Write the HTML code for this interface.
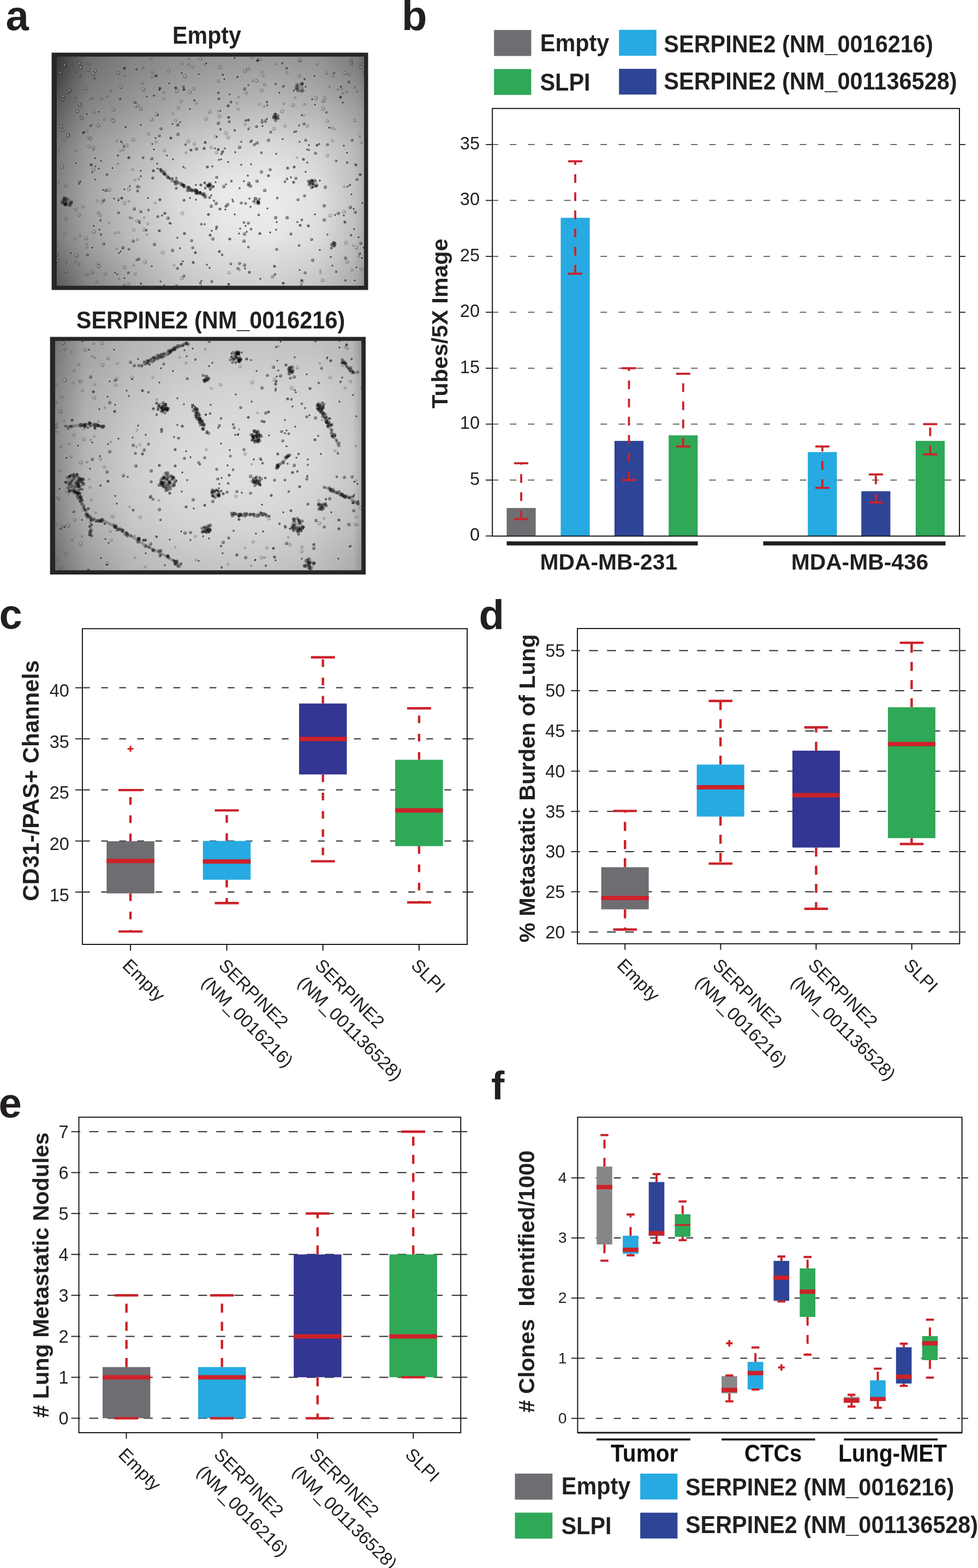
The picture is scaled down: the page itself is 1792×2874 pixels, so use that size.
<!DOCTYPE html><html><head><meta charset="utf-8"><title>Figure</title><style>html,body{margin:0;padding:0;background:#fff;overflow:hidden;width:1792px;height:2874px;}svg{display:block;}text{font-family:"Liberation Sans",Arial,Helvetica,sans-serif;}</style></head><body>
<svg width="1792" height="2874" viewBox="0 0 1792 2874">
<rect width="1792" height="2874" fill="#fff"/>
<defs><g id="k0"><circle r="3" fill="#fff" fill-opacity=".25"/><circle r="2" fill="#000" fill-opacity=".55"/></g><g id="k1"><circle r="3.4" fill="#fff" fill-opacity=".22"/><circle r="2.4" fill="#000" fill-opacity=".55"/><circle cx="-.6" cy="-.6" r=".8" fill="#fff" fill-opacity=".45"/></g><g id="k2"><circle r="3.8" fill="#fff" fill-opacity=".2"/><circle r="2.8" fill="#000" fill-opacity=".5"/><circle cx="-.8" cy="-.8" r="1" fill="#fff" fill-opacity=".45"/></g><g id="k3"><circle r="2.8" fill="#fff" fill-opacity=".2"/><circle r="1.8" fill="#000" fill-opacity=".65"/></g><g id="k4"><circle r="4.2" fill="#fff" fill-opacity=".2"/><circle r="3.2" fill="#000" fill-opacity=".45"/><circle cx="-1" cy="-1" r="1.2" fill="#fff" fill-opacity=".4"/></g><g id="k5"><circle r="2.6" fill="#000" fill-opacity=".55"/></g><g id="k6"><circle r="2.2" fill="#000" fill-opacity=".5"/></g><g id="k7"><circle r="2.8" fill="#000" fill-opacity=".42"/><circle cx="-.7" cy="-.7" r=".9" fill="#fff" fill-opacity=".5"/></g><g id="k8"><circle r="3.3" fill="#000" fill-opacity=".45"/></g><g id="kb"><circle r="3.2" fill="#000" fill-opacity=".22"/><circle cx="-.4" cy="-.4" r="1.5" fill="#fff" fill-opacity=".4"/></g><g id="kc"><circle r="2.6" fill="#000" fill-opacity=".25"/><circle cx="-.3" cy="-.3" r="1.2" fill="#fff" fill-opacity=".4"/></g><g id="kd"><circle r="3.8" fill="#000" fill-opacity=".2"/><circle cx="-.6" cy="-.6" r="1.7" fill="#fff" fill-opacity=".38"/></g><g id="ke"><circle r="2.2" fill="#000" fill-opacity=".28"/><circle cx="-.3" cy="-.3" r="1" fill="#fff" fill-opacity=".38"/></g></defs>
<text x="10.5" y="55" font-size="76" font-weight="bold" fill="#231f20">a</text>
<text x="736" y="55" font-size="76" font-weight="bold" fill="#231f20">b</text>
<text x="-1.5" y="1152" font-size="76" font-weight="bold" fill="#231f20">c</text>
<text x="877.5" y="1152.5" font-size="76" font-weight="bold" fill="#231f20">d</text>
<text x="-2.5" y="2047.5" font-size="76" font-weight="bold" fill="#231f20">e</text>
<text x="900" y="2015" font-size="73" font-weight="bold" fill="#231f20">f</text>
<text transform="translate(379 80.4) scale(1 1.060)" font-size="41.2" font-weight="bold" text-anchor="middle" fill="#231f20">Empty</text>
<defs><clipPath id="cm1"><rect x="103.9" y="103.7" width="563.1" height="420"/></clipPath><filter id="blm1" x="0" y="-10%" width="100%" height="120%"><feGaussianBlur stdDeviation="0 14.4"/></filter><linearGradient id="m1r0"><stop offset="0.000" stop-color="#343434"/><stop offset="0.050" stop-color="#505050"/><stop offset="0.100" stop-color="#6c6c6c"/><stop offset="0.150" stop-color="#737373"/><stop offset="0.200" stop-color="#7b7b7b"/><stop offset="0.250" stop-color="#828282"/><stop offset="0.300" stop-color="#868686"/><stop offset="0.350" stop-color="#8a8a8a"/><stop offset="0.400" stop-color="#8e8e8e"/><stop offset="0.450" stop-color="#919191"/><stop offset="0.500" stop-color="#939393"/><stop offset="0.550" stop-color="#969696"/><stop offset="0.600" stop-color="#979797"/><stop offset="0.650" stop-color="#979797"/><stop offset="0.700" stop-color="#989898"/><stop offset="0.750" stop-color="#969696"/><stop offset="0.800" stop-color="#939393"/><stop offset="0.850" stop-color="#919191"/><stop offset="0.900" stop-color="#878787"/><stop offset="0.950" stop-color="#7e7e7e"/><stop offset="0.970" stop-color="#7a7a7a"/><stop offset="1.000" stop-color="#696969"/></linearGradient><linearGradient id="m1r1"><stop offset="0.000" stop-color="#343434"/><stop offset="0.050" stop-color="#505050"/><stop offset="0.100" stop-color="#6c6c6c"/><stop offset="0.150" stop-color="#737373"/><stop offset="0.200" stop-color="#7b7b7b"/><stop offset="0.250" stop-color="#828282"/><stop offset="0.300" stop-color="#868686"/><stop offset="0.350" stop-color="#8a8a8a"/><stop offset="0.400" stop-color="#8e8e8e"/><stop offset="0.450" stop-color="#919191"/><stop offset="0.500" stop-color="#939393"/><stop offset="0.550" stop-color="#969696"/><stop offset="0.600" stop-color="#979797"/><stop offset="0.650" stop-color="#979797"/><stop offset="0.700" stop-color="#989898"/><stop offset="0.750" stop-color="#969696"/><stop offset="0.800" stop-color="#939393"/><stop offset="0.850" stop-color="#919191"/><stop offset="0.900" stop-color="#878787"/><stop offset="0.950" stop-color="#7e7e7e"/><stop offset="0.970" stop-color="#7a7a7a"/><stop offset="1.000" stop-color="#696969"/></linearGradient><linearGradient id="m1r2"><stop offset="0.000" stop-color="#3a3a3a"/><stop offset="0.050" stop-color="#555555"/><stop offset="0.100" stop-color="#6f6f6f"/><stop offset="0.150" stop-color="#777777"/><stop offset="0.200" stop-color="#7e7e7e"/><stop offset="0.250" stop-color="#858585"/><stop offset="0.300" stop-color="#898989"/><stop offset="0.350" stop-color="#8e8e8e"/><stop offset="0.400" stop-color="#929292"/><stop offset="0.450" stop-color="#959595"/><stop offset="0.500" stop-color="#989898"/><stop offset="0.550" stop-color="#9a9a9a"/><stop offset="0.600" stop-color="#9b9b9b"/><stop offset="0.650" stop-color="#9c9c9c"/><stop offset="0.700" stop-color="#9d9d9d"/><stop offset="0.750" stop-color="#9b9b9b"/><stop offset="0.800" stop-color="#989898"/><stop offset="0.850" stop-color="#969696"/><stop offset="0.900" stop-color="#8c8c8c"/><stop offset="0.950" stop-color="#838383"/><stop offset="0.970" stop-color="#7f7f7f"/><stop offset="1.000" stop-color="#6f6f6f"/></linearGradient><linearGradient id="m1r3"><stop offset="0.000" stop-color="#454545"/><stop offset="0.050" stop-color="#5e5e5e"/><stop offset="0.100" stop-color="#767676"/><stop offset="0.150" stop-color="#7d7d7d"/><stop offset="0.200" stop-color="#848484"/><stop offset="0.250" stop-color="#8b8b8b"/><stop offset="0.300" stop-color="#909090"/><stop offset="0.350" stop-color="#959595"/><stop offset="0.400" stop-color="#9a9a9a"/><stop offset="0.450" stop-color="#9d9d9d"/><stop offset="0.500" stop-color="#a0a0a0"/><stop offset="0.550" stop-color="#a3a3a3"/><stop offset="0.600" stop-color="#a4a4a4"/><stop offset="0.650" stop-color="#a6a6a6"/><stop offset="0.700" stop-color="#a7a7a7"/><stop offset="0.750" stop-color="#a4a4a4"/><stop offset="0.800" stop-color="#a2a2a2"/><stop offset="0.850" stop-color="#9f9f9f"/><stop offset="0.900" stop-color="#969696"/><stop offset="0.950" stop-color="#8d8d8d"/><stop offset="0.970" stop-color="#898989"/><stop offset="1.000" stop-color="#7c7c7c"/></linearGradient><linearGradient id="m1r4"><stop offset="0.000" stop-color="#505050"/><stop offset="0.050" stop-color="#676767"/><stop offset="0.100" stop-color="#7d7d7d"/><stop offset="0.150" stop-color="#848484"/><stop offset="0.200" stop-color="#8b8b8b"/><stop offset="0.250" stop-color="#929292"/><stop offset="0.300" stop-color="#979797"/><stop offset="0.350" stop-color="#9c9c9c"/><stop offset="0.400" stop-color="#a2a2a2"/><stop offset="0.450" stop-color="#a5a5a5"/><stop offset="0.500" stop-color="#a8a8a8"/><stop offset="0.550" stop-color="#acacac"/><stop offset="0.600" stop-color="#aeaeae"/><stop offset="0.650" stop-color="#afafaf"/><stop offset="0.700" stop-color="#b1b1b1"/><stop offset="0.750" stop-color="#aeaeae"/><stop offset="0.800" stop-color="#ababab"/><stop offset="0.850" stop-color="#a8a8a8"/><stop offset="0.900" stop-color="#a0a0a0"/><stop offset="0.950" stop-color="#979797"/><stop offset="0.970" stop-color="#949494"/><stop offset="1.000" stop-color="#888888"/></linearGradient><linearGradient id="m1r5"><stop offset="0.000" stop-color="#5b5b5b"/><stop offset="0.050" stop-color="#707070"/><stop offset="0.100" stop-color="#848484"/><stop offset="0.150" stop-color="#8b8b8b"/><stop offset="0.200" stop-color="#929292"/><stop offset="0.250" stop-color="#999999"/><stop offset="0.300" stop-color="#9f9f9f"/><stop offset="0.350" stop-color="#a4a4a4"/><stop offset="0.400" stop-color="#aaaaaa"/><stop offset="0.450" stop-color="#aeaeae"/><stop offset="0.500" stop-color="#b2b2b2"/><stop offset="0.550" stop-color="#b5b5b5"/><stop offset="0.600" stop-color="#b7b7b7"/><stop offset="0.650" stop-color="#b9b9b9"/><stop offset="0.700" stop-color="#bbbbbb"/><stop offset="0.750" stop-color="#b8b8b8"/><stop offset="0.800" stop-color="#b5b5b5"/><stop offset="0.850" stop-color="#b2b2b2"/><stop offset="0.900" stop-color="#aaaaaa"/><stop offset="0.950" stop-color="#a1a1a1"/><stop offset="0.970" stop-color="#9e9e9e"/><stop offset="1.000" stop-color="#939393"/></linearGradient><linearGradient id="m1r6"><stop offset="0.000" stop-color="#656565"/><stop offset="0.050" stop-color="#797979"/><stop offset="0.100" stop-color="#8c8c8c"/><stop offset="0.150" stop-color="#939393"/><stop offset="0.200" stop-color="#9b9b9b"/><stop offset="0.250" stop-color="#a2a2a2"/><stop offset="0.300" stop-color="#a8a8a8"/><stop offset="0.350" stop-color="#aeaeae"/><stop offset="0.400" stop-color="#b4b4b4"/><stop offset="0.450" stop-color="#b9b9b9"/><stop offset="0.500" stop-color="#bdbdbd"/><stop offset="0.550" stop-color="#c1c1c1"/><stop offset="0.600" stop-color="#c3c3c3"/><stop offset="0.650" stop-color="#c5c5c5"/><stop offset="0.700" stop-color="#c7c7c7"/><stop offset="0.750" stop-color="#c3c3c3"/><stop offset="0.800" stop-color="#c0c0c0"/><stop offset="0.850" stop-color="#bdbdbd"/><stop offset="0.900" stop-color="#b4b4b4"/><stop offset="0.950" stop-color="#ababab"/><stop offset="0.970" stop-color="#a7a7a7"/><stop offset="1.000" stop-color="#9b9b9b"/></linearGradient><linearGradient id="m1r7"><stop offset="0.000" stop-color="#6f6f6f"/><stop offset="0.050" stop-color="#818181"/><stop offset="0.100" stop-color="#949494"/><stop offset="0.150" stop-color="#9c9c9c"/><stop offset="0.200" stop-color="#a4a4a4"/><stop offset="0.250" stop-color="#acacac"/><stop offset="0.300" stop-color="#b2b2b2"/><stop offset="0.350" stop-color="#b8b8b8"/><stop offset="0.400" stop-color="#bfbfbf"/><stop offset="0.450" stop-color="#c3c3c3"/><stop offset="0.500" stop-color="#c8c8c8"/><stop offset="0.550" stop-color="#cdcdcd"/><stop offset="0.600" stop-color="#cecece"/><stop offset="0.650" stop-color="#d0d0d0"/><stop offset="0.700" stop-color="#d2d2d2"/><stop offset="0.750" stop-color="#cfcfcf"/><stop offset="0.800" stop-color="#cbcbcb"/><stop offset="0.850" stop-color="#c8c8c8"/><stop offset="0.900" stop-color="#bebebe"/><stop offset="0.950" stop-color="#b4b4b4"/><stop offset="0.970" stop-color="#b1b1b1"/><stop offset="1.000" stop-color="#a3a3a3"/></linearGradient><linearGradient id="m1r8"><stop offset="0.000" stop-color="#787878"/><stop offset="0.050" stop-color="#8a8a8a"/><stop offset="0.100" stop-color="#9b9b9b"/><stop offset="0.150" stop-color="#a4a4a4"/><stop offset="0.200" stop-color="#acacac"/><stop offset="0.250" stop-color="#b4b4b4"/><stop offset="0.300" stop-color="#bbbbbb"/><stop offset="0.350" stop-color="#c2c2c2"/><stop offset="0.400" stop-color="#c9c9c9"/><stop offset="0.450" stop-color="#cecece"/><stop offset="0.500" stop-color="#d3d3d3"/><stop offset="0.550" stop-color="#d8d8d8"/><stop offset="0.600" stop-color="#d9d9d9"/><stop offset="0.650" stop-color="#dbdbdb"/><stop offset="0.700" stop-color="#dddddd"/><stop offset="0.750" stop-color="#d9d9d9"/><stop offset="0.800" stop-color="#d6d6d6"/><stop offset="0.850" stop-color="#d2d2d2"/><stop offset="0.900" stop-color="#c8c8c8"/><stop offset="0.950" stop-color="#bebebe"/><stop offset="0.970" stop-color="#b9b9b9"/><stop offset="1.000" stop-color="#aaaaaa"/></linearGradient><linearGradient id="m1r9"><stop offset="0.000" stop-color="#7b7b7b"/><stop offset="0.050" stop-color="#8d8d8d"/><stop offset="0.100" stop-color="#9e9e9e"/><stop offset="0.150" stop-color="#a7a7a7"/><stop offset="0.200" stop-color="#b0b0b0"/><stop offset="0.250" stop-color="#b9b9b9"/><stop offset="0.300" stop-color="#c0c0c0"/><stop offset="0.350" stop-color="#c8c8c8"/><stop offset="0.400" stop-color="#cfcfcf"/><stop offset="0.450" stop-color="#d4d4d4"/><stop offset="0.500" stop-color="#d9d9d9"/><stop offset="0.550" stop-color="#dedede"/><stop offset="0.600" stop-color="#dfdfdf"/><stop offset="0.650" stop-color="#e1e1e1"/><stop offset="0.700" stop-color="#e2e2e2"/><stop offset="0.750" stop-color="#dfdfdf"/><stop offset="0.800" stop-color="#dbdbdb"/><stop offset="0.850" stop-color="#d7d7d7"/><stop offset="0.900" stop-color="#cccccc"/><stop offset="0.950" stop-color="#c1c1c1"/><stop offset="0.970" stop-color="#bcbcbc"/><stop offset="1.000" stop-color="#acacac"/></linearGradient><linearGradient id="m1r10"><stop offset="0.000" stop-color="#7f7f7f"/><stop offset="0.050" stop-color="#909090"/><stop offset="0.100" stop-color="#a2a2a2"/><stop offset="0.150" stop-color="#ababab"/><stop offset="0.200" stop-color="#b4b4b4"/><stop offset="0.250" stop-color="#bebebe"/><stop offset="0.300" stop-color="#c6c6c6"/><stop offset="0.350" stop-color="#cdcdcd"/><stop offset="0.400" stop-color="#d5d5d5"/><stop offset="0.450" stop-color="#dadada"/><stop offset="0.500" stop-color="#dfdfdf"/><stop offset="0.550" stop-color="#e4e4e4"/><stop offset="0.600" stop-color="#e5e5e5"/><stop offset="0.650" stop-color="#e7e7e7"/><stop offset="0.700" stop-color="#e8e8e8"/><stop offset="0.750" stop-color="#e4e4e4"/><stop offset="0.800" stop-color="#e0e0e0"/><stop offset="0.850" stop-color="#dcdcdc"/><stop offset="0.900" stop-color="#d0d0d0"/><stop offset="0.950" stop-color="#c4c4c4"/><stop offset="0.970" stop-color="#c0c0c0"/><stop offset="1.000" stop-color="#adadad"/></linearGradient><linearGradient id="m1r11"><stop offset="0.000" stop-color="#828282"/><stop offset="0.050" stop-color="#939393"/><stop offset="0.100" stop-color="#a5a5a5"/><stop offset="0.150" stop-color="#afafaf"/><stop offset="0.200" stop-color="#b9b9b9"/><stop offset="0.250" stop-color="#c3c3c3"/><stop offset="0.300" stop-color="#cbcbcb"/><stop offset="0.350" stop-color="#d3d3d3"/><stop offset="0.400" stop-color="#dbdbdb"/><stop offset="0.450" stop-color="#e0e0e0"/><stop offset="0.500" stop-color="#e5e5e5"/><stop offset="0.550" stop-color="#eaeaea"/><stop offset="0.600" stop-color="#ebebeb"/><stop offset="0.650" stop-color="#ececec"/><stop offset="0.700" stop-color="#ededed"/><stop offset="0.750" stop-color="#e9e9e9"/><stop offset="0.800" stop-color="#e5e5e5"/><stop offset="0.850" stop-color="#e1e1e1"/><stop offset="0.900" stop-color="#d4d4d4"/><stop offset="0.950" stop-color="#c8c8c8"/><stop offset="0.970" stop-color="#c3c3c3"/><stop offset="1.000" stop-color="#afafaf"/></linearGradient><linearGradient id="m1r12"><stop offset="0.000" stop-color="#818181"/><stop offset="0.050" stop-color="#929292"/><stop offset="0.100" stop-color="#a4a4a4"/><stop offset="0.150" stop-color="#aeaeae"/><stop offset="0.200" stop-color="#b8b8b8"/><stop offset="0.250" stop-color="#c2c2c2"/><stop offset="0.300" stop-color="#cacaca"/><stop offset="0.350" stop-color="#d2d2d2"/><stop offset="0.400" stop-color="#dbdbdb"/><stop offset="0.450" stop-color="#dfdfdf"/><stop offset="0.500" stop-color="#e4e4e4"/><stop offset="0.550" stop-color="#e9e9e9"/><stop offset="0.600" stop-color="#eaeaea"/><stop offset="0.650" stop-color="#ebebeb"/><stop offset="0.700" stop-color="#ececec"/><stop offset="0.750" stop-color="#e8e8e8"/><stop offset="0.800" stop-color="#e4e4e4"/><stop offset="0.850" stop-color="#e0e0e0"/><stop offset="0.900" stop-color="#d3d3d3"/><stop offset="0.950" stop-color="#c7c7c7"/><stop offset="0.970" stop-color="#c2c2c2"/><stop offset="1.000" stop-color="#aeaeae"/></linearGradient><linearGradient id="m1r13"><stop offset="0.000" stop-color="#7f7f7f"/><stop offset="0.050" stop-color="#919191"/><stop offset="0.100" stop-color="#a2a2a2"/><stop offset="0.150" stop-color="#acacac"/><stop offset="0.200" stop-color="#b6b6b6"/><stop offset="0.250" stop-color="#c0c0c0"/><stop offset="0.300" stop-color="#c8c8c8"/><stop offset="0.350" stop-color="#d1d1d1"/><stop offset="0.400" stop-color="#d9d9d9"/><stop offset="0.450" stop-color="#dedede"/><stop offset="0.500" stop-color="#e2e2e2"/><stop offset="0.550" stop-color="#e7e7e7"/><stop offset="0.600" stop-color="#e8e8e8"/><stop offset="0.650" stop-color="#e8e8e8"/><stop offset="0.700" stop-color="#e9e9e9"/><stop offset="0.750" stop-color="#e6e6e6"/><stop offset="0.800" stop-color="#e2e2e2"/><stop offset="0.850" stop-color="#dedede"/><stop offset="0.900" stop-color="#d2d2d2"/><stop offset="0.950" stop-color="#c5c5c5"/><stop offset="0.970" stop-color="#c0c0c0"/><stop offset="1.000" stop-color="#acacac"/></linearGradient><linearGradient id="m1r14"><stop offset="0.000" stop-color="#7d7d7d"/><stop offset="0.050" stop-color="#8f8f8f"/><stop offset="0.100" stop-color="#a0a0a0"/><stop offset="0.150" stop-color="#aaaaaa"/><stop offset="0.200" stop-color="#b4b4b4"/><stop offset="0.250" stop-color="#bebebe"/><stop offset="0.300" stop-color="#c7c7c7"/><stop offset="0.350" stop-color="#cfcfcf"/><stop offset="0.400" stop-color="#d7d7d7"/><stop offset="0.450" stop-color="#dcdcdc"/><stop offset="0.500" stop-color="#e0e0e0"/><stop offset="0.550" stop-color="#e5e5e5"/><stop offset="0.600" stop-color="#e5e5e5"/><stop offset="0.650" stop-color="#e6e6e6"/><stop offset="0.700" stop-color="#e7e7e7"/><stop offset="0.750" stop-color="#e3e3e3"/><stop offset="0.800" stop-color="#e0e0e0"/><stop offset="0.850" stop-color="#dcdcdc"/><stop offset="0.900" stop-color="#d0d0d0"/><stop offset="0.950" stop-color="#c3c3c3"/><stop offset="0.970" stop-color="#bebebe"/><stop offset="1.000" stop-color="#aaaaaa"/></linearGradient><linearGradient id="m1r15"><stop offset="0.000" stop-color="#757575"/><stop offset="0.050" stop-color="#878787"/><stop offset="0.100" stop-color="#999999"/><stop offset="0.150" stop-color="#a4a4a4"/><stop offset="0.200" stop-color="#aeaeae"/><stop offset="0.250" stop-color="#b9b9b9"/><stop offset="0.300" stop-color="#c1c1c1"/><stop offset="0.350" stop-color="#cacaca"/><stop offset="0.400" stop-color="#d3d3d3"/><stop offset="0.450" stop-color="#d7d7d7"/><stop offset="0.500" stop-color="#dbdbdb"/><stop offset="0.550" stop-color="#dfdfdf"/><stop offset="0.600" stop-color="#dfdfdf"/><stop offset="0.650" stop-color="#e0e0e0"/><stop offset="0.700" stop-color="#e1e1e1"/><stop offset="0.750" stop-color="#dddddd"/><stop offset="0.800" stop-color="#dadada"/><stop offset="0.850" stop-color="#d7d7d7"/><stop offset="0.900" stop-color="#cacaca"/><stop offset="0.950" stop-color="#bebebe"/><stop offset="0.970" stop-color="#bababa"/><stop offset="1.000" stop-color="#a6a6a6"/></linearGradient><linearGradient id="m1r16"><stop offset="0.000" stop-color="#696969"/><stop offset="0.050" stop-color="#7d7d7d"/><stop offset="0.100" stop-color="#909090"/><stop offset="0.150" stop-color="#9b9b9b"/><stop offset="0.200" stop-color="#a6a6a6"/><stop offset="0.250" stop-color="#b1b1b1"/><stop offset="0.300" stop-color="#bababa"/><stop offset="0.350" stop-color="#c3c3c3"/><stop offset="0.400" stop-color="#cccccc"/><stop offset="0.450" stop-color="#d0d0d0"/><stop offset="0.500" stop-color="#d4d4d4"/><stop offset="0.550" stop-color="#d8d8d8"/><stop offset="0.600" stop-color="#d8d8d8"/><stop offset="0.650" stop-color="#d8d8d8"/><stop offset="0.700" stop-color="#d9d9d9"/><stop offset="0.750" stop-color="#d5d5d5"/><stop offset="0.800" stop-color="#d2d2d2"/><stop offset="0.850" stop-color="#cfcfcf"/><stop offset="0.900" stop-color="#c3c3c3"/><stop offset="0.950" stop-color="#b8b8b8"/><stop offset="0.970" stop-color="#b3b3b3"/><stop offset="1.000" stop-color="#9f9f9f"/></linearGradient><linearGradient id="m1r17"><stop offset="0.000" stop-color="#5e5e5e"/><stop offset="0.050" stop-color="#727272"/><stop offset="0.100" stop-color="#878787"/><stop offset="0.150" stop-color="#929292"/><stop offset="0.200" stop-color="#9e9e9e"/><stop offset="0.250" stop-color="#a9a9a9"/><stop offset="0.300" stop-color="#b3b3b3"/><stop offset="0.350" stop-color="#bcbcbc"/><stop offset="0.400" stop-color="#c6c6c6"/><stop offset="0.450" stop-color="#cacaca"/><stop offset="0.500" stop-color="#cdcdcd"/><stop offset="0.550" stop-color="#d1d1d1"/><stop offset="0.600" stop-color="#d1d1d1"/><stop offset="0.650" stop-color="#d1d1d1"/><stop offset="0.700" stop-color="#d1d1d1"/><stop offset="0.750" stop-color="#cecece"/><stop offset="0.800" stop-color="#cacaca"/><stop offset="0.850" stop-color="#c7c7c7"/><stop offset="0.900" stop-color="#bcbcbc"/><stop offset="0.950" stop-color="#b1b1b1"/><stop offset="0.970" stop-color="#adadad"/><stop offset="1.000" stop-color="#999999"/></linearGradient><linearGradient id="m1r18"><stop offset="0.000" stop-color="#585858"/><stop offset="0.050" stop-color="#6d6d6d"/><stop offset="0.100" stop-color="#828282"/><stop offset="0.150" stop-color="#8e8e8e"/><stop offset="0.200" stop-color="#999999"/><stop offset="0.250" stop-color="#a5a5a5"/><stop offset="0.300" stop-color="#afafaf"/><stop offset="0.350" stop-color="#b9b9b9"/><stop offset="0.400" stop-color="#c3c3c3"/><stop offset="0.450" stop-color="#c6c6c6"/><stop offset="0.500" stop-color="#cacaca"/><stop offset="0.550" stop-color="#cdcdcd"/><stop offset="0.600" stop-color="#cdcdcd"/><stop offset="0.650" stop-color="#cdcdcd"/><stop offset="0.700" stop-color="#cdcdcd"/><stop offset="0.750" stop-color="#cacaca"/><stop offset="0.800" stop-color="#c6c6c6"/><stop offset="0.850" stop-color="#c3c3c3"/><stop offset="0.900" stop-color="#b9b9b9"/><stop offset="0.950" stop-color="#aeaeae"/><stop offset="0.970" stop-color="#aaaaaa"/><stop offset="1.000" stop-color="#969696"/></linearGradient><linearGradient id="m1r19"><stop offset="0.000" stop-color="#585858"/><stop offset="0.050" stop-color="#6d6d6d"/><stop offset="0.100" stop-color="#828282"/><stop offset="0.150" stop-color="#8e8e8e"/><stop offset="0.200" stop-color="#999999"/><stop offset="0.250" stop-color="#a5a5a5"/><stop offset="0.300" stop-color="#afafaf"/><stop offset="0.350" stop-color="#b9b9b9"/><stop offset="0.400" stop-color="#c3c3c3"/><stop offset="0.450" stop-color="#c6c6c6"/><stop offset="0.500" stop-color="#cacaca"/><stop offset="0.550" stop-color="#cdcdcd"/><stop offset="0.600" stop-color="#cdcdcd"/><stop offset="0.650" stop-color="#cdcdcd"/><stop offset="0.700" stop-color="#cdcdcd"/><stop offset="0.750" stop-color="#cacaca"/><stop offset="0.800" stop-color="#c6c6c6"/><stop offset="0.850" stop-color="#c3c3c3"/><stop offset="0.900" stop-color="#b9b9b9"/><stop offset="0.950" stop-color="#aeaeae"/><stop offset="0.970" stop-color="#aaaaaa"/><stop offset="1.000" stop-color="#969696"/></linearGradient></defs>
<rect x="94.6" y="96.5" width="579.9" height="435" fill="#262626"/>
<g clip-path="url(#cm1)">
<g filter="url(#blm1)"><rect x="103.9" y="51.2" width="563.1" height="26.8" fill="url(#m1r0)"/><rect x="103.9" y="77.5" width="563.1" height="26.8" fill="url(#m1r1)"/><rect x="103.9" y="103.7" width="563.1" height="26.8" fill="url(#m1r2)"/><rect x="103.9" y="130" width="563.1" height="26.8" fill="url(#m1r3)"/><rect x="103.9" y="156.2" width="563.1" height="26.8" fill="url(#m1r4)"/><rect x="103.9" y="182.5" width="563.1" height="26.8" fill="url(#m1r5)"/><rect x="103.9" y="208.7" width="563.1" height="26.8" fill="url(#m1r6)"/><rect x="103.9" y="235" width="563.1" height="26.8" fill="url(#m1r7)"/><rect x="103.9" y="261.2" width="563.1" height="26.8" fill="url(#m1r8)"/><rect x="103.9" y="287.5" width="563.1" height="26.8" fill="url(#m1r9)"/><rect x="103.9" y="313.7" width="563.1" height="26.8" fill="url(#m1r10)"/><rect x="103.9" y="340" width="563.1" height="26.8" fill="url(#m1r11)"/><rect x="103.9" y="366.2" width="563.1" height="26.8" fill="url(#m1r12)"/><rect x="103.9" y="392.5" width="563.1" height="26.8" fill="url(#m1r13)"/><rect x="103.9" y="418.7" width="563.1" height="26.8" fill="url(#m1r14)"/><rect x="103.9" y="445" width="563.1" height="26.8" fill="url(#m1r15)"/><rect x="103.9" y="471.2" width="563.1" height="26.8" fill="url(#m1r16)"/><rect x="103.9" y="497.5" width="563.1" height="26.8" fill="url(#m1r17)"/><rect x="103.9" y="523.7" width="563.1" height="26.8" fill="url(#m1r18)"/><rect x="103.9" y="550" width="563.1" height="26.8" fill="url(#m1r19)"/></g>
<use href="#k3" x="359" y="339"/><use href="#k5" x="358" y="463"/><use href="#k0" x="392" y="368"/><use href="#kb" x="355" y="163"/><use href="#k4" x="439" y="270"/><use href="#kb" x="451" y="170"/><use href="#kb" x="137" y="184"/><use href="#k1" x="542" y="241"/><use href="#k4" x="396" y="373"/><use href="#kb" x="152" y="379"/><use href="#kd" x="502" y="236"/><use href="#kb" x="121" y="340"/><use href="#k5" x="581" y="266"/><use href="#k0" x="490" y="193"/><use href="#k0" x="369" y="515"/><use href="#k2" x="423" y="187"/><use href="#k5" x="153" y="243"/><use href="#k0" x="624" y="160"/><use href="#kc" x="138" y="438"/><use href="#k1" x="356" y="184"/><use href="#k1" x="340" y="265"/><use href="#kd" x="104" y="467"/><use href="#kb" x="666" y="112"/><use href="#kb" x="128" y="165"/><use href="#k0" x="539" y="242"/><use href="#kb" x="146" y="191"/><use href="#k3" x="442" y="260"/><use href="#k1" x="376" y="345"/><use href="#kc" x="457" y="234"/><use href="#k3" x="512" y="170"/><use href="#k3" x="215" y="503"/><use href="#kd" x="148" y="124"/><use href="#ke" x="238" y="400"/><use href="#k0" x="269" y="177"/><use href="#k3" x="175" y="305"/><use href="#k1" x="450" y="221"/><use href="#kc" x="526" y="133"/><use href="#kc" x="138" y="178"/><use href="#kd" x="156" y="162"/><use href="#k1" x="474" y="394"/><use href="#k2" x="436" y="492"/><use href="#kb" x="499" y="508"/><use href="#k0" x="375" y="411"/><use href="#k4" x="146" y="333"/><use href="#k2" x="519" y="158"/><use href="#k5" x="302" y="391"/><use href="#ke" x="587" y="500"/><use href="#k3" x="426" y="366"/><use href="#kb" x="111" y="134"/><use href="#k3" x="663" y="473"/><use href="#k3" x="630" y="395"/><use href="#k0" x="576" y="139"/><use href="#kb" x="279" y="141"/><use href="#k2" x="384" y="362"/><use href="#kc" x="609" y="258"/><use href="#k3" x="396" y="420"/><use href="#kd" x="384" y="205"/><use href="#k1" x="216" y="285"/><use href="#k2" x="600" y="265"/><use href="#kb" x="222" y="160"/><use href="#k1" x="504" y="503"/><use href="#k5" x="167" y="302"/><use href="#k2" x="337" y="367"/><use href="#k2" x="507" y="457"/><use href="#kb" x="146" y="117"/><use href="#k4" x="486" y="222"/><use href="#ke" x="550" y="112"/><use href="#kc" x="211" y="427"/><use href="#kb" x="553" y="517"/><use href="#k0" x="459" y="379"/><use href="#k1" x="489" y="187"/><use href="#k0" x="506" y="421"/><use href="#kc" x="205" y="218"/><use href="#k0" x="325" y="436"/><use href="#k3" x="335" y="479"/><use href="#k3" x="359" y="366"/><use href="#k5" x="414" y="378"/><use href="#k1" x="636" y="298"/><use href="#k4" x="160" y="467"/><use href="#kb" x="173" y="205"/><use href="#k2" x="654" y="329"/><use href="#kb" x="251" y="405"/><use href="#kd" x="125" y="247"/><use href="#k0" x="378" y="116"/><use href="#kc" x="345" y="118"/><use href="#k3" x="369" y="524"/><use href="#k3" x="577" y="393"/><use href="#k3" x="430" y="393"/><use href="#k4" x="400" y="226"/><use href="#k2" x="196" y="320"/><use href="#k3" x="279" y="264"/><use href="#k3" x="221" y="461"/><use href="#k0" x="258" y="313"/><use href="#k0" x="387" y="358"/><use href="#k3" x="394" y="272"/><use href="#ke" x="173" y="143"/><use href="#k2" x="337" y="506"/><use href="#ke" x="243" y="311"/><use href="#kb" x="400" y="149"/><use href="#k0" x="625" y="158"/><use href="#kd" x="124" y="169"/><use href="#k0" x="285" y="253"/><use href="#k3" x="385" y="348"/><use href="#ke" x="245" y="187"/><use href="#kc" x="117" y="370"/><use href="#k1" x="407" y="467"/><use href="#k5" x="402" y="461"/><use href="#kd" x="181" y="488"/><use href="#kc" x="612" y="236"/><use href="#k1" x="227" y="523"/><use href="#ke" x="604" y="159"/><use href="#kc" x="159" y="453"/><use href="#k0" x="217" y="367"/><use href="#k2" x="217" y="390"/><use href="#k3" x="169" y="316"/><use href="#k3" x="666" y="454"/><use href="#ke" x="164" y="119"/><use href="#kc" x="186" y="181"/><use href="#kb" x="662" y="493"/><use href="#kb" x="180" y="390"/><use href="#k3" x="288" y="300"/><use href="#k0" x="222" y="260"/><use href="#kd" x="579" y="180"/><use href="#kb" x="332" y="186"/><use href="#k5" x="286" y="139"/><use href="#k1" x="616" y="498"/><use href="#k2" x="388" y="516"/><use href="#kc" x="261" y="153"/><use href="#k3" x="563" y="274"/><use href="#k3" x="495" y="426"/><use href="#k2" x="220" y="181"/><use href="#kb" x="368" y="108"/><use href="#k2" x="235" y="500"/><use href="#kb" x="226" y="274"/><use href="#k4" x="323" y="524"/><use href="#kb" x="171" y="270"/><use href="#k3" x="450" y="414"/><use href="#k0" x="388" y="423"/><use href="#k3" x="159" y="209"/><use href="#k5" x="408" y="278"/><use href="#k0" x="664" y="372"/><use href="#k3" x="413" y="384"/><use href="#kc" x="628" y="171"/><use href="#k3" x="586" y="331"/><use href="#k3" x="636" y="280"/><use href="#k2" x="280" y="326"/><use href="#k2" x="420" y="223"/><use href="#kc" x="119" y="428"/><use href="#kd" x="334" y="391"/><use href="#k2" x="525" y="125"/><use href="#ke" x="145" y="484"/><use href="#kb" x="245" y="421"/><use href="#k5" x="632" y="407"/><use href="#ke" x="242" y="400"/><use href="#kc" x="360" y="189"/><use href="#k3" x="174" y="290"/><use href="#k2" x="442" y="372"/><use href="#k2" x="542" y="327"/><use href="#kd" x="517" y="204"/><use href="#k2" x="546" y="366"/><use href="#k1" x="447" y="408"/><use href="#k1" x="460" y="420"/><use href="#k4" x="387" y="378"/><use href="#ke" x="126" y="129"/><use href="#kd" x="119" y="120"/><use href="#kc" x="145" y="140"/><use href="#k1" x="459" y="260"/><use href="#kb" x="294" y="311"/><use href="#k5" x="556" y="292"/><use href="#kd" x="537" y="193"/><use href="#kd" x="324" y="167"/><use href="#k1" x="268" y="422"/><use href="#kd" x="345" y="259"/><use href="#ke" x="148" y="139"/><use href="#k0" x="563" y="298"/><use href="#kb" x="147" y="193"/><use href="#k2" x="495" y="311"/><use href="#kd" x="263" y="164"/><use href="#k3" x="310" y="153"/><use href="#k2" x="439" y="483"/><use href="#k2" x="351" y="441"/><use href="#k3" x="228" y="510"/><use href="#kd" x="244" y="256"/><use href="#k4" x="485" y="349"/><use href="#k5" x="421" y="438"/><use href="#ke" x="437" y="178"/><use href="#kb" x="600" y="222"/><use href="#k4" x="410" y="342"/><use href="#k2" x="578" y="281"/><use href="#kb" x="548" y="139"/><use href="#kc" x="610" y="139"/><use href="#kc" x="159" y="447"/><use href="#k3" x="379" y="485"/><use href="#k4" x="326" y="246"/><use href="#k0" x="181" y="309"/><use href="#k5" x="503" y="488"/><use href="#ke" x="659" y="250"/><use href="#k4" x="573" y="477"/><use href="#kb" x="118" y="256"/><use href="#kc" x="341" y="280"/><use href="#kc" x="662" y="261"/><use href="#k0" x="323" y="326"/><use href="#k1" x="369" y="411"/><use href="#ke" x="541" y="179"/><use href="#kd" x="114" y="306"/><use href="#kc" x="165" y="181"/><use href="#k3" x="442" y="302"/><use href="#kd" x="208" y="222"/><use href="#k5" x="457" y="499"/><use href="#k2" x="251" y="476"/><use href="#k5" x="476" y="428"/><use href="#k5" x="228" y="125"/><use href="#k5" x="553" y="514"/><use href="#k1" x="258" y="520"/><use href="#k3" x="606" y="471"/><use href="#k1" x="553" y="403"/><use href="#k5" x="338" y="428"/><use href="#k3" x="560" y="159"/><use href="#kc" x="254" y="328"/><use href="#kc" x="105" y="449"/><use href="#kb" x="150" y="217"/><use href="#kd" x="605" y="395"/><use href="#kb" x="115" y="183"/><use href="#ke" x="544" y="289"/><use href="#k2" x="400" y="170"/><use href="#k3" x="282" y="274"/><use href="#kc" x="480" y="132"/><use href="#kb" x="163" y="269"/><use href="#ke" x="472" y="109"/><use href="#k0" x="238" y="341"/><use href="#k3" x="586" y="458"/><use href="#k4" x="190" y="367"/><use href="#kb" x="272" y="245"/><use href="#k2" x="248" y="188"/><use href="#kd" x="278" y="219"/><use href="#kb" x="356" y="264"/><use href="#kc" x="178" y="368"/><use href="#k0" x="330" y="455"/><use href="#ke" x="160" y="117"/><use href="#k3" x="333" y="134"/><use href="#kc" x="626" y="162"/><use href="#k3" x="566" y="266"/><use href="#k2" x="455" y="409"/><use href="#k3" x="657" y="435"/><use href="#kd" x="402" y="213"/><use href="#kd" x="470" y="148"/><use href="#k1" x="548" y="450"/><use href="#kc" x="247" y="330"/><use href="#kc" x="302" y="314"/><use href="#k5" x="660" y="320"/><use href="#kc" x="631" y="342"/><use href="#ke" x="541" y="161"/><use href="#k2" x="496" y="242"/><use href="#k4" x="254" y="475"/><use href="#kb" x="180" y="483"/><use href="#k5" x="419" y="215"/><use href="#k0" x="292" y="165"/><use href="#kd" x="266" y="480"/><use href="#k0" x="572" y="182"/><use href="#k4" x="360" y="273"/><use href="#k3" x="182" y="421"/><use href="#k1" x="450" y="373"/><use href="#ke" x="216" y="300"/><use href="#kc" x="171" y="274"/><use href="#k4" x="252" y="342"/><use href="#k3" x="545" y="407"/><use href="#k3" x="644" y="356"/><use href="#k3" x="609" y="487"/><use href="#k5" x="527" y="308"/><use href="#k0" x="614" y="394"/><use href="#k3" x="423" y="484"/><use href="#kb" x="397" y="280"/><use href="#k3" x="271" y="363"/><use href="#k3" x="440" y="419"/><use href="#k1" x="598" y="206"/><use href="#kb" x="387" y="270"/><use href="#ke" x="400" y="204"/><use href="#k4" x="633" y="473"/><use href="#k3" x="648" y="383"/><use href="#k3" x="421" y="173"/><use href="#kc" x="423" y="483"/><use href="#k0" x="174" y="329"/><use href="#kc" x="271" y="410"/><use href="#ke" x="139" y="480"/><use href="#kd" x="183" y="394"/><use href="#ke" x="121" y="481"/><use href="#k1" x="185" y="430"/><use href="#k0" x="218" y="464"/><use href="#ke" x="214" y="456"/><use href="#kc" x="113" y="371"/><use href="#k0" x="404" y="203"/><use href="#k2" x="470" y="232"/><use href="#k4" x="594" y="403"/><use href="#k1" x="643" y="431"/><use href="#k1" x="230" y="233"/><use href="#k2" x="255" y="406"/><use href="#k0" x="549" y="260"/><use href="#kc" x="436" y="200"/><use href="#k0" x="480" y="220"/><use href="#k0" x="364" y="136"/><use href="#kd" x="403" y="123"/><use href="#k1" x="406" y="282"/><use href="#kd" x="264" y="421"/><use href="#k1" x="517" y="116"/><use href="#ke" x="660" y="118"/><use href="#kb" x="105" y="478"/><use href="#k4" x="417" y="375"/><use href="#kc" x="376" y="117"/><use href="#k3" x="438" y="428"/><use href="#k5" x="236" y="289"/><use href="#k3" x="507" y="407"/><use href="#k0" x="228" y="347"/><use href="#ke" x="218" y="511"/><use href="#kb" x="595" y="179"/><use href="#k4" x="447" y="442"/><use href="#kc" x="252" y="439"/><use href="#k1" x="424" y="332"/><use href="#kd" x="455" y="126"/><use href="#k5" x="565" y="414"/><use href="#k1" x="435" y="141"/><use href="#ke" x="317" y="208"/><use href="#kc" x="138" y="276"/><use href="#kc" x="500" y="506"/><use href="#k0" x="185" y="295"/><use href="#kb" x="106" y="276"/><use href="#kb" x="325" y="229"/><use href="#k4" x="651" y="389"/><use href="#kc" x="449" y="228"/><use href="#kd" x="339" y="140"/><use href="#k0" x="294" y="516"/><use href="#k4" x="194" y="349"/><use href="#k3" x="297" y="395"/><use href="#k5" x="624" y="178"/><use href="#ke" x="224" y="263"/><use href="#kc" x="300" y="181"/><use href="#k5" x="374" y="272"/><use href="#k4" x="278" y="291"/><use href="#k3" x="206" y="308"/><use href="#kd" x="145" y="394"/><use href="#k3" x="454" y="322"/><use href="#k2" x="325" y="492"/><use href="#kd" x="162" y="128"/><use href="#k0" x="181" y="205"/><use href="#kb" x="115" y="239"/><use href="#k3" x="585" y="264"/><use href="#k3" x="481" y="231"/><use href="#kb" x="127" y="167"/><use href="#kc" x="221" y="276"/><use href="#k3" x="395" y="334"/><use href="#kd" x="479" y="166"/><use href="#k3" x="405" y="292"/><use href="#kd" x="592" y="199"/><use href="#k4" x="448" y="163"/><use href="#k4" x="459" y="341"/><use href="#k1" x="272" y="385"/><use href="#kd" x="418" y="252"/><use href="#ke" x="236" y="369"/><use href="#kd" x="171" y="311"/><use href="#ke" x="264" y="399"/><use href="#kc" x="218" y="426"/><use href="#k5" x="397" y="416"/><use href="#k3" x="189" y="348"/><use href="#k0" x="278" y="488"/><use href="#kb" x="309" y="130"/><use href="#k4" x="316" y="459"/><use href="#kd" x="287" y="210"/><use href="#kc" x="286" y="260"/><use href="#k2" x="466" y="265"/><use href="#kb" x="121" y="401"/><use href="#k3" x="457" y="364"/><use href="#ke" x="140" y="132"/><use href="#kc" x="319" y="486"/><use href="#k3" x="489" y="218"/><use href="#kc" x="654" y="167"/><use href="#ke" x="249" y="196"/><use href="#kb" x="106" y="333"/><use href="#k5" x="455" y="339"/><use href="#k2" x="292" y="249"/><use href="#kc" x="558" y="191"/><use href="#ke" x="647" y="450"/><use href="#k2" x="557" y="227"/><use href="#k1" x="526" y="328"/><use href="#k4" x="308" y="400"/><use href="#kb" x="175" y="130"/><use href="#k3" x="603" y="234"/><use href="#k5" x="539" y="306"/><use href="#k3" x="336" y="306"/><use href="#k4" x="390" y="438"/><use href="#k1" x="461" y="258"/><use href="#k5" x="292" y="423"/><use href="#kc" x="177" y="517"/><use href="#k1" x="455" y="453"/><use href="#kc" x="217" y="365"/><use href="#k5" x="652" y="302"/><use href="#ke" x="650" y="160"/><use href="#k4" x="246" y="383"/><use href="#kb" x="661" y="124"/><use href="#kb" x="594" y="185"/><use href="#k5" x="332" y="484"/><use href="#k5" x="376" y="261"/><use href="#k4" x="594" y="377"/><use href="#k3" x="452" y="425"/><use href="#kc" x="484" y="195"/><use href="#k2" x="353" y="454"/><use href="#kb" x="600" y="285"/><use href="#ke" x="256" y="343"/><use href="#kd" x="258" y="199"/><use href="#k0" x="414" y="338"/><use href="#kc" x="607" y="234"/><use href="#k5" x="293" y="162"/><use href="#ke" x="334" y="117"/><use href="#k5" x="418" y="194"/><use href="#k5" x="455" y="220"/><use href="#k4" x="244" y="442"/><use href="#k3" x="130" y="464"/><use href="#kd" x="171" y="135"/><use href="#k0" x="139" y="299"/><use href="#kc" x="644" y="108"/><use href="#k5" x="550" y="413"/><use href="#k5" x="403" y="383"/><use href="#ke" x="161" y="503"/><use href="#kc" x="245" y="486"/><use href="#kd" x="232" y="267"/><use href="#k2" x="560" y="257"/><use href="#kb" x="280" y="132"/><use href="#kb" x="253" y="193"/><use href="#k1" x="522" y="333"/><use href="#kc" x="300" y="169"/><use href="#ke" x="346" y="108"/><use href="#kc" x="157" y="503"/><use href="#kb" x="116" y="177"/><use href="#k1" x="430" y="239"/><use href="#k5" x="385" y="431"/><use href="#k2" x="258" y="388"/><use href="#k0" x="600" y="430"/><use href="#kb" x="187" y="370"/><use href="#k5" x="223" y="363"/><use href="#k0" x="506" y="282"/><use href="#k3" x="172" y="414"/><use href="#k1" x="479" y="280"/><use href="#kb" x="315" y="331"/><use href="#k0" x="401" y="293"/><use href="#ke" x="439" y="495"/><use href="#k1" x="289" y="211"/><use href="#k5" x="519" y="519"/><use href="#k0" x="649" y="420"/><use href="#k1" x="236" y="457"/><use href="#k2" x="571" y="439"/><use href="#kd" x="140" y="469"/><use href="#kb" x="395" y="250"/><use href="#kc" x="591" y="186"/><use href="#k3" x="145" y="337"/><use href="#kb" x="598" y="134"/><use href="#k5" x="538" y="334"/><use href="#kd" x="634" y="445"/><use href="#kd" x="125" y="249"/><use href="#ke" x="170" y="180"/><use href="#k1" x="612" y="134"/><use href="#k1" x="404" y="237"/><use href="#k5" x="419" y="521"/><use href="#k2" x="295" y="236"/><use href="#kc" x="475" y="191"/><use href="#kd" x="200" y="348"/><use href="#kd" x="169" y="499"/><use href="#kc" x="277" y="107"/><use href="#k3" x="518" y="255"/><use href="#kd" x="217" y="134"/><use href="#k3" x="566" y="275"/><use href="#ke" x="173" y="144"/><use href="#kd" x="236" y="347"/><use href="#kc" x="640" y="137"/><use href="#k3" x="630" y="267"/><use href="#kd" x="228" y="372"/><use href="#k2" x="262" y="289"/><use href="#kb" x="477" y="109"/><use href="#k2" x="336" y="159"/><use href="#kb" x="322" y="221"/><use href="#k0" x="411" y="145"/><use href="#kd" x="549" y="110"/><use href="#k4" x="661" y="446"/><use href="#k3" x="460" y="301"/><use href="#k0" x="389" y="305"/><use href="#k3" x="650" y="514"/><use href="#k0" x="348" y="200"/><use href="#ke" x="666" y="132"/><use href="#k3" x="549" y="495"/><use href="#ke" x="222" y="259"/><use href="#kd" x="158" y="437"/><use href="#k0" x="477" y="511"/><use href="#kd" x="348" y="169"/><use href="#kd" x="636" y="480"/><use href="#k5" x="336" y="339"/><use href="#k0" x="548" y="230"/><use href="#kd" x="142" y="204"/><use href="#ke" x="269" y="430"/><use href="#k1" x="367" y="519"/><use href="#k0" x="418" y="297"/><use href="#k3" x="560" y="315"/><use href="#k5" x="400" y="274"/><use href="#k1" x="505" y="154"/><use href="#k4" x="190" y="447"/><use href="#k3" x="316" y="227"/><use href="#k4" x="166" y="230"/><use href="#k2" x="533" y="429"/><use href="#ke" x="148" y="213"/><use href="#k3" x="289" y="309"/><use href="#k0" x="637" y="342"/><use href="#k2" x="326" y="229"/><use href="#ke" x="228" y="139"/><use href="#k0" x="306" y="285"/><use href="#ke" x="279" y="327"/><use href="#k0" x="412" y="272"/><use href="#kc" x="505" y="117"/><use href="#k2" x="397" y="325"/><use href="#kd" x="333" y="510"/><use href="#k2" x="645" y="257"/><use href="#k0" x="577" y="192"/><use href="#k5" x="281" y="313"/><use href="#kd" x="298" y="463"/><use href="#k2" x="559" y="500"/><use href="#k0" x="330" y="224"/><use href="#kb" x="327" y="198"/><use href="#k4" x="283" y="448"/><use href="#ke" x="263" y="524"/><use href="#k4" x="456" y="336"/><use href="#k1" x="508" y="363"/><use href="#k3" x="430" y="106"/><use href="#k5" x="293" y="366"/><use href="#kc" x="146" y="432"/><use href="#k0" x="317" y="292"/><use href="#k5" x="354" y="481"/><use href="#k3" x="169" y="454"/><use href="#k4" x="505" y="399"/><use href="#k1" x="641" y="339"/><use href="#kb" x="159" y="240"/><use href="#ke" x="191" y="219"/><use href="#k3" x="628" y="188"/><use href="#k5" x="382" y="393"/><use href="#k5" x="375" y="335"/><use href="#kc" x="434" y="189"/><use href="#k4" x="471" y="262"/><use href="#k2" x="323" y="345"/><use href="#k3" x="538" y="166"/><use href="#k2" x="289" y="397"/><use href="#kb" x="301" y="276"/><use href="#kc" x="556" y="211"/><use href="#k3" x="348" y="363"/><use href="#k1" x="616" y="295"/><use href="#k3" x="209" y="364"/><use href="#kc" x="581" y="118"/><use href="#kd" x="414" y="244"/><use href="#k1" x="558" y="145"/><use href="#k2" x="659" y="465"/><use href="#kd" x="172" y="425"/><use href="#k4" x="492" y="257"/><use href="#k2" x="558" y="359"/><use href="#kd" x="166" y="254"/><use href="#k2" x="480" y="224"/><use href="#kd" x="377" y="218"/><use href="#kc" x="635" y="168"/><use href="#k3" x="447" y="332"/><use href="#k4" x="526" y="399"/><use href="#k2" x="250" y="127"/><use href="#k4" x="471" y="332"/><use href="#k3" x="313" y="410"/><use href="#k0" x="256" y="409"/><use href="#k4" x="639" y="150"/><use href="#kb" x="522" y="231"/><use href="#kc" x="214" y="258"/><use href="#kb" x="138" y="384"/><use href="#k5" x="337" y="164"/><use href="#k3" x="653" y="490"/><use href="#k2" x="401" y="181"/><use href="#k0" x="449" y="492"/><use href="#ke" x="339" y="308"/><use href="#kb" x="121" y="498"/><use href="#kd" x="180" y="230"/><use href="#k1" x="633" y="514"/><use href="#ke" x="587" y="496"/><use href="#k3" x="552" y="522"/><use href="#k1" x="282" y="175"/><use href="#kd" x="644" y="117"/><use href="#kc" x="643" y="114"/><use href="#k5" x="492" y="322"/><use href="#kc" x="482" y="139"/><use href="#kd" x="653" y="454"/><use href="#k1" x="227" y="268"/><use href="#k2" x="252" y="350"/><use href="#k3" x="397" y="251"/><use href="#ke" x="203" y="167"/><use href="#kd" x="228" y="490"/><use href="#k0" x="439" y="345"/><use href="#kd" x="208" y="201"/><use href="#kc" x="520" y="190"/><use href="#k1" x="408" y="137"/><use href="#kc" x="353" y="123"/><use href="#k5" x="313" y="253"/><use href="#k5" x="322" y="161"/><use href="#kd" x="235" y="521"/><use href="#kb" x="420" y="500"/><use href="#ke" x="133" y="118"/><use href="#ke" x="619" y="164"/><use href="#kc" x="645" y="495"/><use href="#k1" x="184" y="404"/><use href="#ke" x="238" y="398"/><use href="#k1" x="311" y="409"/><use href="#kd" x="633" y="134"/><use href="#kb" x="485" y="155"/><use href="#k3" x="258" y="323"/><use href="#k0" x="533" y="325"/><use href="#k5" x="472" y="111"/><use href="#kd" x="630" y="388"/><use href="#ke" x="463" y="148"/><use href="#k0" x="301" y="523"/><use href="#k0" x="211" y="500"/><use href="#k2" x="351" y="349"/><use href="#kc" x="196" y="176"/><use href="#ke" x="645" y="114"/><use href="#kd" x="449" y="130"/><use href="#kd" x="112" y="232"/><use href="#k2" x="581" y="340"/><use href="#k3" x="455" y="237"/><use href="#k3" x="431" y="279"/><use href="#kc" x="248" y="502"/><use href="#k5" x="368" y="339"/><use href="#ke" x="200" y="408"/><use href="#kb" x="193" y="502"/><use href="#kb" x="461" y="105"/><use href="#k3" x="384" y="491"/><use href="#k3" x="490" y="382"/><use href="#k0" x="427" y="369"/><use href="#kc" x="284" y="372"/><use href="#kb" x="650" y="221"/><use href="#ke" x="262" y="125"/><use href="#k3" x="553" y="211"/><use href="#kb" x="162" y="252"/><use href="#k5" x="380" y="306"/><use href="#k4" x="479" y="315"/><use href="#k4" x="225" y="454"/><use href="#k4" x="620" y="391"/><use href="#k0" x="258" y="229"/><use href="#kb" x="563" y="231"/><use href="#k4" x="642" y="380"/><use href="#k4" x="448" y="486"/><use href="#kd" x="591" y="514"/><use href="#kc" x="657" y="470"/><use href="#k4" x="448" y="429"/><use href="#k0" x="455" y="156"/><use href="#k5" x="350" y="275"/><use href="#k4" x="596" y="343"/><use href="#k7" x="323" y="331"/><use href="#k6" x="337" y="343"/><use href="#k7" x="350" y="347"/><use href="#k7" x="308" y="326"/><use href="#k7" x="345" y="343"/><use href="#k8" x="337" y="340"/><use href="#k8" x="296" y="313"/><use href="#k7" x="362" y="355"/><use href="#k7" x="302" y="319"/><use href="#k8" x="334" y="339"/><use href="#k6" x="300" y="319"/><use href="#k7" x="302" y="319"/><use href="#k7" x="366" y="353"/><use href="#k7" x="307" y="324"/><use href="#k6" x="367" y="352"/><use href="#k8" x="344" y="349"/><use href="#k6" x="316" y="327"/><use href="#k7" x="300" y="316"/><use href="#k7" x="332" y="336"/><use href="#k7" x="374" y="355"/><use href="#k6" x="294" y="310"/><use href="#k7" x="358" y="348"/><use href="#k6" x="362" y="351"/><use href="#k8" x="322" y="337"/><use href="#k6" x="361" y="349"/><use href="#k7" x="352" y="350"/><use href="#k7" x="326" y="334"/><use href="#k8" x="371" y="356"/><use href="#k8" x="360" y="353"/><use href="#k8" x="346" y="344"/><use href="#k6" x="320" y="334"/><use href="#k8" x="366" y="354"/><use href="#k6" x="311" y="327"/><use href="#k7" x="360" y="349"/><use href="#k7" x="373" y="358"/><use href="#k7" x="359" y="352"/><use href="#k8" x="357" y="349"/><use href="#k7" x="347" y="349"/><use href="#k7" x="359" y="354"/><use href="#k8" x="376" y="361"/><path d="M293 312 L315 330 L345 345 L379 359" fill="none" stroke="#222" stroke-opacity="0.3" stroke-width="5" stroke-linejoin="round"/><circle cx="574" cy="336" r="8.5" fill="#000" fill-opacity=".18"/><use href="#k8" x="571" y="331"/><use href="#k6" x="573" y="333"/><use href="#k8" x="567" y="338"/><use href="#k7" x="565" y="332"/><use href="#k6" x="572" y="337"/><use href="#k7" x="571" y="344"/><use href="#k7" x="577" y="331"/><use href="#k6" x="579" y="342"/><use href="#k8" x="568" y="334"/><use href="#k7" x="577" y="340"/><use href="#k6" x="574" y="338"/><use href="#k7" x="573" y="335"/><use href="#k6" x="573" y="343"/><use href="#k7" x="571" y="331"/><circle cx="550" cy="160" r="6.8" fill="#000" fill-opacity=".18"/><use href="#k7" x="552" y="167"/><use href="#k7" x="546" y="166"/><use href="#k6" x="554" y="154"/><use href="#k7" x="543" y="163"/><use href="#k7" x="544" y="155"/><use href="#k7" x="544" y="158"/><use href="#k7" x="555" y="166"/><use href="#k7" x="552" y="153"/><use href="#k7" x="554" y="153"/><use href="#k7" x="544" y="161"/><circle cx="504" cy="215" r="6" fill="#000" fill-opacity=".18"/><use href="#k7" x="505" y="221"/><use href="#k8" x="502" y="215"/><use href="#k6" x="504" y="214"/><use href="#k6" x="505" y="209"/><use href="#k7" x="505" y="216"/><use href="#k8" x="504" y="210"/><use href="#k6" x="506" y="216"/><use href="#k7" x="509" y="212"/><use href="#k7" x="507" y="216"/><use href="#k7" x="510" y="217"/><circle cx="121" cy="370" r="8.5" fill="#000" fill-opacity=".18"/><use href="#k7" x="115" y="368"/><use href="#k7" x="131" y="370"/><use href="#k7" x="121" y="371"/><use href="#k7" x="117" y="372"/><use href="#k8" x="128" y="376"/><use href="#k8" x="119" y="366"/><use href="#k8" x="118" y="363"/><use href="#k7" x="123" y="365"/><use href="#k7" x="114" y="371"/><use href="#k8" x="120" y="375"/><use href="#k8" x="130" y="372"/><use href="#k8" x="120" y="374"/><circle cx="470" cy="370" r="6" fill="#000" fill-opacity=".18"/><use href="#k8" x="468" y="364"/><use href="#k7" x="474" y="373"/><use href="#k7" x="475" y="365"/><use href="#k7" x="473" y="372"/><use href="#k7" x="465" y="369"/><use href="#k7" x="474" y="371"/><use href="#k6" x="472" y="370"/><use href="#k8" x="473" y="370"/><circle cx="385" cy="342" r="5.1" fill="#000" fill-opacity=".18"/><use href="#k8" x="384" y="337"/><use href="#k8" x="380" y="340"/><use href="#k6" x="381" y="340"/><use href="#k8" x="383" y="341"/><use href="#k8" x="385" y="339"/><use href="#k7" x="386" y="346"/><use href="#k6" x="391" y="342"/><use href="#k7" x="390" y="342"/><circle cx="610" cy="450" r="5.1" fill="#000" fill-opacity=".18"/><use href="#k7" x="608" y="448"/><use href="#k6" x="607" y="455"/><use href="#k7" x="613" y="450"/><use href="#k7" x="612" y="445"/><use href="#k7" x="611" y="450"/><use href="#k7" x="611" y="445"/><use href="#k7" x="614" y="447"/><use href="#k7" x="612" y="445"/>
</g>
<text transform="translate(386 601.5) scale(1 1.060)" font-size="41.4" font-weight="bold" text-anchor="middle" fill="#231f20">SERPINE2 (NM_0016216)</text>
<defs><clipPath id="cm2"><rect x="101" y="624.7" width="561.5" height="420.5"/></clipPath><filter id="blm2" x="0" y="-10%" width="100%" height="120%"><feGaussianBlur stdDeviation="0 14.5"/></filter><linearGradient id="m2r0"><stop offset="0.000" stop-color="#737373"/><stop offset="0.050" stop-color="#8a8a8a"/><stop offset="0.100" stop-color="#a0a0a0"/><stop offset="0.150" stop-color="#a7a7a7"/><stop offset="0.200" stop-color="#adadad"/><stop offset="0.250" stop-color="#b4b4b4"/><stop offset="0.300" stop-color="#b7b7b7"/><stop offset="0.350" stop-color="#bbbbbb"/><stop offset="0.400" stop-color="#bebebe"/><stop offset="0.450" stop-color="#c0c0c0"/><stop offset="0.500" stop-color="#c1c1c1"/><stop offset="0.550" stop-color="#c3c3c3"/><stop offset="0.600" stop-color="#c3c3c3"/><stop offset="0.650" stop-color="#c3c3c3"/><stop offset="0.700" stop-color="#c3c3c3"/><stop offset="0.750" stop-color="#c2c2c2"/><stop offset="0.800" stop-color="#c1c1c1"/><stop offset="0.850" stop-color="#c0c0c0"/><stop offset="0.900" stop-color="#bbbbbb"/><stop offset="0.950" stop-color="#b6b6b6"/><stop offset="0.970" stop-color="#b4b4b4"/><stop offset="1.000" stop-color="#969696"/></linearGradient><linearGradient id="m2r1"><stop offset="0.000" stop-color="#737373"/><stop offset="0.050" stop-color="#8a8a8a"/><stop offset="0.100" stop-color="#a0a0a0"/><stop offset="0.150" stop-color="#a7a7a7"/><stop offset="0.200" stop-color="#adadad"/><stop offset="0.250" stop-color="#b4b4b4"/><stop offset="0.300" stop-color="#b7b7b7"/><stop offset="0.350" stop-color="#bbbbbb"/><stop offset="0.400" stop-color="#bebebe"/><stop offset="0.450" stop-color="#c0c0c0"/><stop offset="0.500" stop-color="#c1c1c1"/><stop offset="0.550" stop-color="#c3c3c3"/><stop offset="0.600" stop-color="#c3c3c3"/><stop offset="0.650" stop-color="#c3c3c3"/><stop offset="0.700" stop-color="#c3c3c3"/><stop offset="0.750" stop-color="#c2c2c2"/><stop offset="0.800" stop-color="#c1c1c1"/><stop offset="0.850" stop-color="#c0c0c0"/><stop offset="0.900" stop-color="#bbbbbb"/><stop offset="0.950" stop-color="#b6b6b6"/><stop offset="0.970" stop-color="#b4b4b4"/><stop offset="1.000" stop-color="#969696"/></linearGradient><linearGradient id="m2r2"><stop offset="0.000" stop-color="#757575"/><stop offset="0.050" stop-color="#8c8c8c"/><stop offset="0.100" stop-color="#a2a2a2"/><stop offset="0.150" stop-color="#a9a9a9"/><stop offset="0.200" stop-color="#afafaf"/><stop offset="0.250" stop-color="#b6b6b6"/><stop offset="0.300" stop-color="#b9b9b9"/><stop offset="0.350" stop-color="#bdbdbd"/><stop offset="0.400" stop-color="#c0c0c0"/><stop offset="0.450" stop-color="#c2c2c2"/><stop offset="0.500" stop-color="#c4c4c4"/><stop offset="0.550" stop-color="#c5c5c5"/><stop offset="0.600" stop-color="#c5c5c5"/><stop offset="0.650" stop-color="#c5c5c5"/><stop offset="0.700" stop-color="#c5c5c5"/><stop offset="0.750" stop-color="#c4c4c4"/><stop offset="0.800" stop-color="#c3c3c3"/><stop offset="0.850" stop-color="#c2c2c2"/><stop offset="0.900" stop-color="#bdbdbd"/><stop offset="0.950" stop-color="#b8b8b8"/><stop offset="0.970" stop-color="#b6b6b6"/><stop offset="1.000" stop-color="#989898"/></linearGradient><linearGradient id="m2r3"><stop offset="0.000" stop-color="#7a7a7a"/><stop offset="0.050" stop-color="#909090"/><stop offset="0.100" stop-color="#a6a6a6"/><stop offset="0.150" stop-color="#acacac"/><stop offset="0.200" stop-color="#b3b3b3"/><stop offset="0.250" stop-color="#bababa"/><stop offset="0.300" stop-color="#bdbdbd"/><stop offset="0.350" stop-color="#c1c1c1"/><stop offset="0.400" stop-color="#c5c5c5"/><stop offset="0.450" stop-color="#c7c7c7"/><stop offset="0.500" stop-color="#c8c8c8"/><stop offset="0.550" stop-color="#cacaca"/><stop offset="0.600" stop-color="#cacaca"/><stop offset="0.650" stop-color="#cacaca"/><stop offset="0.700" stop-color="#cacaca"/><stop offset="0.750" stop-color="#c9c9c9"/><stop offset="0.800" stop-color="#c8c8c8"/><stop offset="0.850" stop-color="#c8c8c8"/><stop offset="0.900" stop-color="#c2c2c2"/><stop offset="0.950" stop-color="#bdbdbd"/><stop offset="0.970" stop-color="#bbbbbb"/><stop offset="1.000" stop-color="#9d9d9d"/></linearGradient><linearGradient id="m2r4"><stop offset="0.000" stop-color="#7f7f7f"/><stop offset="0.050" stop-color="#949494"/><stop offset="0.100" stop-color="#a9a9a9"/><stop offset="0.150" stop-color="#b0b0b0"/><stop offset="0.200" stop-color="#b7b7b7"/><stop offset="0.250" stop-color="#bdbdbd"/><stop offset="0.300" stop-color="#c1c1c1"/><stop offset="0.350" stop-color="#c6c6c6"/><stop offset="0.400" stop-color="#cacaca"/><stop offset="0.450" stop-color="#cbcbcb"/><stop offset="0.500" stop-color="#cdcdcd"/><stop offset="0.550" stop-color="#cfcfcf"/><stop offset="0.600" stop-color="#cfcfcf"/><stop offset="0.650" stop-color="#cfcfcf"/><stop offset="0.700" stop-color="#cfcfcf"/><stop offset="0.750" stop-color="#cecece"/><stop offset="0.800" stop-color="#cdcdcd"/><stop offset="0.850" stop-color="#cccccc"/><stop offset="0.900" stop-color="#c7c7c7"/><stop offset="0.950" stop-color="#c2c2c2"/><stop offset="0.970" stop-color="#c0c0c0"/><stop offset="1.000" stop-color="#a2a2a2"/></linearGradient><linearGradient id="m2r5"><stop offset="0.000" stop-color="#838383"/><stop offset="0.050" stop-color="#989898"/><stop offset="0.100" stop-color="#adadad"/><stop offset="0.150" stop-color="#b3b3b3"/><stop offset="0.200" stop-color="#bababa"/><stop offset="0.250" stop-color="#c1c1c1"/><stop offset="0.300" stop-color="#c5c5c5"/><stop offset="0.350" stop-color="#cacaca"/><stop offset="0.400" stop-color="#cecece"/><stop offset="0.450" stop-color="#d0d0d0"/><stop offset="0.500" stop-color="#d1d1d1"/><stop offset="0.550" stop-color="#d3d3d3"/><stop offset="0.600" stop-color="#d3d3d3"/><stop offset="0.650" stop-color="#d3d3d3"/><stop offset="0.700" stop-color="#d3d3d3"/><stop offset="0.750" stop-color="#d2d2d2"/><stop offset="0.800" stop-color="#d1d1d1"/><stop offset="0.850" stop-color="#d1d1d1"/><stop offset="0.900" stop-color="#cbcbcb"/><stop offset="0.950" stop-color="#c6c6c6"/><stop offset="0.970" stop-color="#c3c3c3"/><stop offset="1.000" stop-color="#a6a6a6"/></linearGradient><linearGradient id="m2r6"><stop offset="0.000" stop-color="#858585"/><stop offset="0.050" stop-color="#9a9a9a"/><stop offset="0.100" stop-color="#afafaf"/><stop offset="0.150" stop-color="#b6b6b6"/><stop offset="0.200" stop-color="#bdbdbd"/><stop offset="0.250" stop-color="#c4c4c4"/><stop offset="0.300" stop-color="#c8c8c8"/><stop offset="0.350" stop-color="#cdcdcd"/><stop offset="0.400" stop-color="#d1d1d1"/><stop offset="0.450" stop-color="#d3d3d3"/><stop offset="0.500" stop-color="#d4d4d4"/><stop offset="0.550" stop-color="#d6d6d6"/><stop offset="0.600" stop-color="#d6d6d6"/><stop offset="0.650" stop-color="#d6d6d6"/><stop offset="0.700" stop-color="#d6d6d6"/><stop offset="0.750" stop-color="#d5d5d5"/><stop offset="0.800" stop-color="#d4d4d4"/><stop offset="0.850" stop-color="#d3d3d3"/><stop offset="0.900" stop-color="#cdcdcd"/><stop offset="0.950" stop-color="#c7c7c7"/><stop offset="0.970" stop-color="#c5c5c5"/><stop offset="1.000" stop-color="#a8a8a8"/></linearGradient><linearGradient id="m2r7"><stop offset="0.000" stop-color="#888888"/><stop offset="0.050" stop-color="#9d9d9d"/><stop offset="0.100" stop-color="#b2b2b2"/><stop offset="0.150" stop-color="#b9b9b9"/><stop offset="0.200" stop-color="#c0c0c0"/><stop offset="0.250" stop-color="#c7c7c7"/><stop offset="0.300" stop-color="#cccccc"/><stop offset="0.350" stop-color="#d0d0d0"/><stop offset="0.400" stop-color="#d4d4d4"/><stop offset="0.450" stop-color="#d6d6d6"/><stop offset="0.500" stop-color="#d8d8d8"/><stop offset="0.550" stop-color="#d9d9d9"/><stop offset="0.600" stop-color="#d9d9d9"/><stop offset="0.650" stop-color="#d9d9d9"/><stop offset="0.700" stop-color="#d9d9d9"/><stop offset="0.750" stop-color="#d8d8d8"/><stop offset="0.800" stop-color="#d6d6d6"/><stop offset="0.850" stop-color="#d5d5d5"/><stop offset="0.900" stop-color="#cfcfcf"/><stop offset="0.950" stop-color="#c9c9c9"/><stop offset="0.970" stop-color="#c7c7c7"/><stop offset="1.000" stop-color="#aaaaaa"/></linearGradient><linearGradient id="m2r8"><stop offset="0.000" stop-color="#8a8a8a"/><stop offset="0.050" stop-color="#9f9f9f"/><stop offset="0.100" stop-color="#b4b4b4"/><stop offset="0.150" stop-color="#bbbbbb"/><stop offset="0.200" stop-color="#c3c3c3"/><stop offset="0.250" stop-color="#cacaca"/><stop offset="0.300" stop-color="#cecece"/><stop offset="0.350" stop-color="#d3d3d3"/><stop offset="0.400" stop-color="#d7d7d7"/><stop offset="0.450" stop-color="#d9d9d9"/><stop offset="0.500" stop-color="#dadada"/><stop offset="0.550" stop-color="#dcdcdc"/><stop offset="0.600" stop-color="#dcdcdc"/><stop offset="0.650" stop-color="#dcdcdc"/><stop offset="0.700" stop-color="#dcdcdc"/><stop offset="0.750" stop-color="#dadada"/><stop offset="0.800" stop-color="#d9d9d9"/><stop offset="0.850" stop-color="#d7d7d7"/><stop offset="0.900" stop-color="#d1d1d1"/><stop offset="0.950" stop-color="#cacaca"/><stop offset="0.970" stop-color="#c8c8c8"/><stop offset="1.000" stop-color="#acacac"/></linearGradient><linearGradient id="m2r9"><stop offset="0.000" stop-color="#8a8a8a"/><stop offset="0.050" stop-color="#9f9f9f"/><stop offset="0.100" stop-color="#b5b5b5"/><stop offset="0.150" stop-color="#bcbcbc"/><stop offset="0.200" stop-color="#c4c4c4"/><stop offset="0.250" stop-color="#cbcbcb"/><stop offset="0.300" stop-color="#cfcfcf"/><stop offset="0.350" stop-color="#d4d4d4"/><stop offset="0.400" stop-color="#d8d8d8"/><stop offset="0.450" stop-color="#dadada"/><stop offset="0.500" stop-color="#dbdbdb"/><stop offset="0.550" stop-color="#dddddd"/><stop offset="0.600" stop-color="#dddddd"/><stop offset="0.650" stop-color="#dddddd"/><stop offset="0.700" stop-color="#dddddd"/><stop offset="0.750" stop-color="#dbdbdb"/><stop offset="0.800" stop-color="#d9d9d9"/><stop offset="0.850" stop-color="#d7d7d7"/><stop offset="0.900" stop-color="#d1d1d1"/><stop offset="0.950" stop-color="#cacaca"/><stop offset="0.970" stop-color="#c8c8c8"/><stop offset="1.000" stop-color="#acacac"/></linearGradient><linearGradient id="m2r10"><stop offset="0.000" stop-color="#8a8a8a"/><stop offset="0.050" stop-color="#a0a0a0"/><stop offset="0.100" stop-color="#b5b5b5"/><stop offset="0.150" stop-color="#bdbdbd"/><stop offset="0.200" stop-color="#c4c4c4"/><stop offset="0.250" stop-color="#cccccc"/><stop offset="0.300" stop-color="#d0d0d0"/><stop offset="0.350" stop-color="#d5d5d5"/><stop offset="0.400" stop-color="#d9d9d9"/><stop offset="0.450" stop-color="#dadada"/><stop offset="0.500" stop-color="#dcdcdc"/><stop offset="0.550" stop-color="#dddddd"/><stop offset="0.600" stop-color="#dddddd"/><stop offset="0.650" stop-color="#dddddd"/><stop offset="0.700" stop-color="#dddddd"/><stop offset="0.750" stop-color="#dbdbdb"/><stop offset="0.800" stop-color="#d9d9d9"/><stop offset="0.850" stop-color="#d7d7d7"/><stop offset="0.900" stop-color="#d1d1d1"/><stop offset="0.950" stop-color="#cacaca"/><stop offset="0.970" stop-color="#c8c8c8"/><stop offset="1.000" stop-color="#acacac"/></linearGradient><linearGradient id="m2r11"><stop offset="0.000" stop-color="#8a8a8a"/><stop offset="0.050" stop-color="#a0a0a0"/><stop offset="0.100" stop-color="#b6b6b6"/><stop offset="0.150" stop-color="#bebebe"/><stop offset="0.200" stop-color="#c5c5c5"/><stop offset="0.250" stop-color="#cdcdcd"/><stop offset="0.300" stop-color="#d1d1d1"/><stop offset="0.350" stop-color="#d6d6d6"/><stop offset="0.400" stop-color="#dadada"/><stop offset="0.450" stop-color="#dbdbdb"/><stop offset="0.500" stop-color="#dddddd"/><stop offset="0.550" stop-color="#dedede"/><stop offset="0.600" stop-color="#dedede"/><stop offset="0.650" stop-color="#dedede"/><stop offset="0.700" stop-color="#dedede"/><stop offset="0.750" stop-color="#dcdcdc"/><stop offset="0.800" stop-color="#d9d9d9"/><stop offset="0.850" stop-color="#d7d7d7"/><stop offset="0.900" stop-color="#d1d1d1"/><stop offset="0.950" stop-color="#cacaca"/><stop offset="0.970" stop-color="#c8c8c8"/><stop offset="1.000" stop-color="#acacac"/></linearGradient><linearGradient id="m2r12"><stop offset="0.000" stop-color="#878787"/><stop offset="0.050" stop-color="#9d9d9d"/><stop offset="0.100" stop-color="#b3b3b3"/><stop offset="0.150" stop-color="#bbbbbb"/><stop offset="0.200" stop-color="#c3c3c3"/><stop offset="0.250" stop-color="#cbcbcb"/><stop offset="0.300" stop-color="#cfcfcf"/><stop offset="0.350" stop-color="#d4d4d4"/><stop offset="0.400" stop-color="#d8d8d8"/><stop offset="0.450" stop-color="#d9d9d9"/><stop offset="0.500" stop-color="#dadada"/><stop offset="0.550" stop-color="#dcdcdc"/><stop offset="0.600" stop-color="#dcdcdc"/><stop offset="0.650" stop-color="#dcdcdc"/><stop offset="0.700" stop-color="#dcdcdc"/><stop offset="0.750" stop-color="#d9d9d9"/><stop offset="0.800" stop-color="#d7d7d7"/><stop offset="0.850" stop-color="#d4d4d4"/><stop offset="0.900" stop-color="#cecece"/><stop offset="0.950" stop-color="#c8c8c8"/><stop offset="0.970" stop-color="#c5c5c5"/><stop offset="1.000" stop-color="#aaaaaa"/></linearGradient><linearGradient id="m2r13"><stop offset="0.000" stop-color="#848484"/><stop offset="0.050" stop-color="#9a9a9a"/><stop offset="0.100" stop-color="#b0b0b0"/><stop offset="0.150" stop-color="#b8b8b8"/><stop offset="0.200" stop-color="#c1c1c1"/><stop offset="0.250" stop-color="#c9c9c9"/><stop offset="0.300" stop-color="#cdcdcd"/><stop offset="0.350" stop-color="#d1d1d1"/><stop offset="0.400" stop-color="#d5d5d5"/><stop offset="0.450" stop-color="#d7d7d7"/><stop offset="0.500" stop-color="#d8d8d8"/><stop offset="0.550" stop-color="#d9d9d9"/><stop offset="0.600" stop-color="#d9d9d9"/><stop offset="0.650" stop-color="#d9d9d9"/><stop offset="0.700" stop-color="#d9d9d9"/><stop offset="0.750" stop-color="#d7d7d7"/><stop offset="0.800" stop-color="#d4d4d4"/><stop offset="0.850" stop-color="#d1d1d1"/><stop offset="0.900" stop-color="#cbcbcb"/><stop offset="0.950" stop-color="#c5c5c5"/><stop offset="0.970" stop-color="#c2c2c2"/><stop offset="1.000" stop-color="#a8a8a8"/></linearGradient><linearGradient id="m2r14"><stop offset="0.000" stop-color="#818181"/><stop offset="0.050" stop-color="#979797"/><stop offset="0.100" stop-color="#adadad"/><stop offset="0.150" stop-color="#b6b6b6"/><stop offset="0.200" stop-color="#bebebe"/><stop offset="0.250" stop-color="#c7c7c7"/><stop offset="0.300" stop-color="#cbcbcb"/><stop offset="0.350" stop-color="#cfcfcf"/><stop offset="0.400" stop-color="#d3d3d3"/><stop offset="0.450" stop-color="#d4d4d4"/><stop offset="0.500" stop-color="#d5d5d5"/><stop offset="0.550" stop-color="#d7d7d7"/><stop offset="0.600" stop-color="#d7d7d7"/><stop offset="0.650" stop-color="#d7d7d7"/><stop offset="0.700" stop-color="#d7d7d7"/><stop offset="0.750" stop-color="#d4d4d4"/><stop offset="0.800" stop-color="#d1d1d1"/><stop offset="0.850" stop-color="#cecece"/><stop offset="0.900" stop-color="#c8c8c8"/><stop offset="0.950" stop-color="#c1c1c1"/><stop offset="0.970" stop-color="#bfbfbf"/><stop offset="1.000" stop-color="#a6a6a6"/></linearGradient><linearGradient id="m2r15"><stop offset="0.000" stop-color="#7c7c7c"/><stop offset="0.050" stop-color="#919191"/><stop offset="0.100" stop-color="#a7a7a7"/><stop offset="0.150" stop-color="#b0b0b0"/><stop offset="0.200" stop-color="#b9b9b9"/><stop offset="0.250" stop-color="#c2c2c2"/><stop offset="0.300" stop-color="#c6c6c6"/><stop offset="0.350" stop-color="#cacaca"/><stop offset="0.400" stop-color="#cecece"/><stop offset="0.450" stop-color="#cfcfcf"/><stop offset="0.500" stop-color="#d1d1d1"/><stop offset="0.550" stop-color="#d2d2d2"/><stop offset="0.600" stop-color="#d2d2d2"/><stop offset="0.650" stop-color="#d2d2d2"/><stop offset="0.700" stop-color="#d2d2d2"/><stop offset="0.750" stop-color="#cfcfcf"/><stop offset="0.800" stop-color="#cccccc"/><stop offset="0.850" stop-color="#c9c9c9"/><stop offset="0.900" stop-color="#c3c3c3"/><stop offset="0.950" stop-color="#bdbdbd"/><stop offset="0.970" stop-color="#bababa"/><stop offset="1.000" stop-color="#a1a1a1"/></linearGradient><linearGradient id="m2r16"><stop offset="0.000" stop-color="#757575"/><stop offset="0.050" stop-color="#8b8b8b"/><stop offset="0.100" stop-color="#a0a0a0"/><stop offset="0.150" stop-color="#aaaaaa"/><stop offset="0.200" stop-color="#b3b3b3"/><stop offset="0.250" stop-color="#bcbcbc"/><stop offset="0.300" stop-color="#c0c0c0"/><stop offset="0.350" stop-color="#c4c4c4"/><stop offset="0.400" stop-color="#c8c8c8"/><stop offset="0.450" stop-color="#cacaca"/><stop offset="0.500" stop-color="#cbcbcb"/><stop offset="0.550" stop-color="#cccccc"/><stop offset="0.600" stop-color="#cccccc"/><stop offset="0.650" stop-color="#cccccc"/><stop offset="0.700" stop-color="#cccccc"/><stop offset="0.750" stop-color="#c9c9c9"/><stop offset="0.800" stop-color="#c7c7c7"/><stop offset="0.850" stop-color="#c4c4c4"/><stop offset="0.900" stop-color="#bdbdbd"/><stop offset="0.950" stop-color="#b7b7b7"/><stop offset="0.970" stop-color="#b4b4b4"/><stop offset="1.000" stop-color="#9c9c9c"/></linearGradient><linearGradient id="m2r17"><stop offset="0.000" stop-color="#6f6f6f"/><stop offset="0.050" stop-color="#848484"/><stop offset="0.100" stop-color="#999999"/><stop offset="0.150" stop-color="#a3a3a3"/><stop offset="0.200" stop-color="#adadad"/><stop offset="0.250" stop-color="#b7b7b7"/><stop offset="0.300" stop-color="#bbbbbb"/><stop offset="0.350" stop-color="#bfbfbf"/><stop offset="0.400" stop-color="#c3c3c3"/><stop offset="0.450" stop-color="#c4c4c4"/><stop offset="0.500" stop-color="#c5c5c5"/><stop offset="0.550" stop-color="#c6c6c6"/><stop offset="0.600" stop-color="#c6c6c6"/><stop offset="0.650" stop-color="#c6c6c6"/><stop offset="0.700" stop-color="#c6c6c6"/><stop offset="0.750" stop-color="#c4c4c4"/><stop offset="0.800" stop-color="#c1c1c1"/><stop offset="0.850" stop-color="#bfbfbf"/><stop offset="0.900" stop-color="#b8b8b8"/><stop offset="0.950" stop-color="#b1b1b1"/><stop offset="0.970" stop-color="#afafaf"/><stop offset="1.000" stop-color="#979797"/></linearGradient><linearGradient id="m2r18"><stop offset="0.000" stop-color="#6c6c6c"/><stop offset="0.050" stop-color="#818181"/><stop offset="0.100" stop-color="#969696"/><stop offset="0.150" stop-color="#a0a0a0"/><stop offset="0.200" stop-color="#aaaaaa"/><stop offset="0.250" stop-color="#b4b4b4"/><stop offset="0.300" stop-color="#b8b8b8"/><stop offset="0.350" stop-color="#bcbcbc"/><stop offset="0.400" stop-color="#c0c0c0"/><stop offset="0.450" stop-color="#c1c1c1"/><stop offset="0.500" stop-color="#c2c2c2"/><stop offset="0.550" stop-color="#c3c3c3"/><stop offset="0.600" stop-color="#c3c3c3"/><stop offset="0.650" stop-color="#c3c3c3"/><stop offset="0.700" stop-color="#c3c3c3"/><stop offset="0.750" stop-color="#c1c1c1"/><stop offset="0.800" stop-color="#bebebe"/><stop offset="0.850" stop-color="#bcbcbc"/><stop offset="0.900" stop-color="#b5b5b5"/><stop offset="0.950" stop-color="#afafaf"/><stop offset="0.970" stop-color="#acacac"/><stop offset="1.000" stop-color="#949494"/></linearGradient><linearGradient id="m2r19"><stop offset="0.000" stop-color="#6c6c6c"/><stop offset="0.050" stop-color="#818181"/><stop offset="0.100" stop-color="#969696"/><stop offset="0.150" stop-color="#a0a0a0"/><stop offset="0.200" stop-color="#aaaaaa"/><stop offset="0.250" stop-color="#b4b4b4"/><stop offset="0.300" stop-color="#b8b8b8"/><stop offset="0.350" stop-color="#bcbcbc"/><stop offset="0.400" stop-color="#c0c0c0"/><stop offset="0.450" stop-color="#c1c1c1"/><stop offset="0.500" stop-color="#c2c2c2"/><stop offset="0.550" stop-color="#c3c3c3"/><stop offset="0.600" stop-color="#c3c3c3"/><stop offset="0.650" stop-color="#c3c3c3"/><stop offset="0.700" stop-color="#c3c3c3"/><stop offset="0.750" stop-color="#c1c1c1"/><stop offset="0.800" stop-color="#bebebe"/><stop offset="0.850" stop-color="#bcbcbc"/><stop offset="0.900" stop-color="#b5b5b5"/><stop offset="0.950" stop-color="#afafaf"/><stop offset="0.970" stop-color="#acacac"/><stop offset="1.000" stop-color="#949494"/></linearGradient></defs>
<rect x="91.7" y="617.5" width="578.3" height="435.5" fill="#262626"/>
<g clip-path="url(#cm2)">
<g filter="url(#blm2)"><rect x="101" y="572.1" width="561.5" height="26.8" fill="url(#m2r0)"/><rect x="101" y="598.4" width="561.5" height="26.8" fill="url(#m2r1)"/><rect x="101" y="624.7" width="561.5" height="26.8" fill="url(#m2r2)"/><rect x="101" y="651" width="561.5" height="26.8" fill="url(#m2r3)"/><rect x="101" y="677.3" width="561.5" height="26.8" fill="url(#m2r4)"/><rect x="101" y="703.5" width="561.5" height="26.8" fill="url(#m2r5)"/><rect x="101" y="729.8" width="561.5" height="26.8" fill="url(#m2r6)"/><rect x="101" y="756.1" width="561.5" height="26.8" fill="url(#m2r7)"/><rect x="101" y="782.4" width="561.5" height="26.8" fill="url(#m2r8)"/><rect x="101" y="808.7" width="561.5" height="26.8" fill="url(#m2r9)"/><rect x="101" y="835" width="561.5" height="26.8" fill="url(#m2r10)"/><rect x="101" y="861.2" width="561.5" height="26.8" fill="url(#m2r11)"/><rect x="101" y="887.5" width="561.5" height="26.8" fill="url(#m2r12)"/><rect x="101" y="913.8" width="561.5" height="26.8" fill="url(#m2r13)"/><rect x="101" y="940.1" width="561.5" height="26.8" fill="url(#m2r14)"/><rect x="101" y="966.4" width="561.5" height="26.8" fill="url(#m2r15)"/><rect x="101" y="992.6" width="561.5" height="26.8" fill="url(#m2r16)"/><rect x="101" y="1018.9" width="561.5" height="26.8" fill="url(#m2r17)"/><rect x="101" y="1045.2" width="561.5" height="26.8" fill="url(#m2r18)"/><rect x="101" y="1071.5" width="561.5" height="26.8" fill="url(#m2r19)"/></g>
<use href="#k0" x="620" y="1024"/><use href="#kd" x="111" y="754"/><use href="#kc" x="174" y="705"/><use href="#ke" x="449" y="1004"/><use href="#k2" x="338" y="840"/><use href="#kd" x="534" y="711"/><use href="#k2" x="470" y="886"/><use href="#k2" x="419" y="986"/><use href="#ke" x="472" y="757"/><use href="#k4" x="201" y="828"/><use href="#kd" x="462" y="701"/><use href="#k0" x="479" y="843"/><use href="#kd" x="156" y="641"/><use href="#k2" x="562" y="764"/><use href="#k1" x="405" y="1001"/><use href="#k4" x="246" y="670"/><use href="#k1" x="547" y="832"/><use href="#k1" x="617" y="874"/><use href="#k3" x="353" y="639"/><use href="#kc" x="114" y="965"/><use href="#k3" x="553" y="1024"/><use href="#k3" x="522" y="770"/><use href="#kc" x="376" y="640"/><use href="#k0" x="525" y="818"/><use href="#kc" x="159" y="847"/><use href="#k3" x="243" y="802"/><use href="#k1" x="529" y="901"/><use href="#k4" x="604" y="914"/><use href="#k3" x="640" y="1002"/><use href="#k3" x="267" y="797"/><use href="#k0" x="443" y="646"/><use href="#k5" x="455" y="765"/><use href="#k2" x="343" y="694"/><use href="#k3" x="417" y="853"/><use href="#k2" x="639" y="961"/><use href="#kc" x="103" y="783"/><use href="#k0" x="522" y="794"/><use href="#k0" x="198" y="814"/><use href="#k3" x="337" y="741"/><use href="#k2" x="506" y="699"/><use href="#k5" x="606" y="661"/><use href="#ke" x="601" y="783"/><use href="#k2" x="441" y="747"/><use href="#k1" x="553" y="740"/><use href="#k3" x="319" y="801"/><use href="#k4" x="525" y="996"/><use href="#kc" x="151" y="716"/><use href="#k0" x="383" y="671"/><use href="#kb" x="257" y="948"/><use href="#ke" x="247" y="982"/><use href="#kd" x="125" y="964"/><use href="#k1" x="418" y="886"/><use href="#k2" x="516" y="791"/><use href="#k3" x="655" y="887"/><use href="#k1" x="196" y="1035"/><use href="#k4" x="655" y="682"/><use href="#kb" x="266" y="1002"/><use href="#k2" x="562" y="878"/><use href="#kc" x="117" y="772"/><use href="#k3" x="217" y="804"/><use href="#k4" x="226" y="872"/><use href="#k4" x="304" y="899"/><use href="#k4" x="276" y="997"/><use href="#k5" x="174" y="785"/><use href="#k1" x="619" y="831"/><use href="#k3" x="527" y="850"/><use href="#k3" x="338" y="642"/><use href="#k1" x="563" y="873"/><use href="#kc" x="637" y="639"/><use href="#k0" x="325" y="779"/><use href="#k3" x="402" y="887"/><use href="#ke" x="203" y="810"/><use href="#ke" x="652" y="817"/><use href="#k2" x="244" y="935"/><use href="#k4" x="648" y="936"/><use href="#kb" x="592" y="927"/><use href="#k5" x="523" y="966"/><use href="#kc" x="169" y="653"/><use href="#kb" x="651" y="961"/><use href="#k1" x="522" y="880"/><use href="#k4" x="579" y="954"/><use href="#k5" x="261" y="832"/><use href="#k1" x="405" y="767"/><use href="#k1" x="545" y="864"/><use href="#kb" x="137" y="953"/><use href="#k5" x="492" y="755"/><use href="#k0" x="428" y="973"/><use href="#k3" x="505" y="1027"/><use href="#k4" x="249" y="854"/><use href="#kb" x="464" y="993"/><use href="#k3" x="470" y="680"/><use href="#kb" x="135" y="903"/><use href="#ke" x="438" y="787"/><use href="#k5" x="549" y="892"/><use href="#k3" x="109" y="896"/><use href="#k0" x="609" y="799"/><use href="#k0" x="357" y="745"/><use href="#k5" x="568" y="712"/><use href="#k4" x="166" y="691"/><use href="#k3" x="649" y="883"/><use href="#k4" x="211" y="697"/><use href="#k5" x="434" y="1017"/><use href="#kc" x="137" y="901"/><use href="#ke" x="166" y="806"/><use href="#kc" x="653" y="948"/><use href="#k1" x="184" y="890"/><use href="#kb" x="191" y="856"/><use href="#kc" x="418" y="1034"/><use href="#k4" x="514" y="689"/><use href="#kc" x="119" y="640"/><use href="#k3" x="622" y="736"/><use href="#k5" x="497" y="908"/><use href="#k3" x="341" y="827"/><use href="#k0" x="400" y="784"/><use href="#k0" x="199" y="995"/><use href="#kc" x="121" y="1014"/><use href="#k4" x="160" y="933"/><use href="#k4" x="578" y="766"/><use href="#k3" x="182" y="750"/><use href="#k3" x="406" y="876"/><use href="#k4" x="450" y="1022"/><use href="#k4" x="201" y="738"/><use href="#kd" x="187" y="629"/><use href="#k4" x="409" y="994"/><use href="#k5" x="621" y="953"/><use href="#kc" x="145" y="699"/><use href="#k5" x="608" y="778"/><use href="#k4" x="239" y="664"/><use href="#kc" x="247" y="1022"/><use href="#k1" x="487" y="1037"/><use href="#k3" x="377" y="760"/><use href="#k5" x="292" y="853"/><use href="#k3" x="519" y="939"/><use href="#kb" x="545" y="674"/><use href="#kc" x="204" y="990"/><use href="#k2" x="300" y="667"/><use href="#k4" x="266" y="990"/><use href="#ke" x="662" y="711"/><use href="#k3" x="607" y="939"/><use href="#kb" x="122" y="900"/><use href="#k0" x="564" y="852"/><use href="#ke" x="172" y="630"/><use href="#k4" x="539" y="853"/><use href="#k3" x="209" y="641"/><use href="#k5" x="210" y="754"/><use href="#ke" x="103" y="738"/><use href="#k5" x="198" y="882"/><use href="#k0" x="214" y="923"/><use href="#k2" x="589" y="675"/><use href="#kc" x="202" y="974"/><use href="#ke" x="105" y="912"/><use href="#kb" x="149" y="699"/><use href="#kb" x="553" y="1003"/><use href="#kb" x="103" y="781"/><use href="#k4" x="390" y="919"/><use href="#kb" x="531" y="998"/><use href="#kc" x="535" y="681"/><use href="#k5" x="162" y="1045"/><use href="#ke" x="150" y="983"/><use href="#k5" x="375" y="926"/><use href="#ke" x="126" y="905"/><use href="#k2" x="578" y="625"/><use href="#k3" x="443" y="903"/><use href="#k5" x="409" y="905"/><use href="#k1" x="624" y="700"/><use href="#k2" x="547" y="979"/><use href="#k2" x="459" y="904"/><use href="#k0" x="542" y="719"/><use href="#ke" x="132" y="990"/><use href="#kb" x="489" y="1004"/><use href="#kb" x="605" y="692"/><use href="#k3" x="405" y="813"/><use href="#kc" x="251" y="788"/><use href="#ke" x="119" y="964"/><use href="#k2" x="135" y="938"/><use href="#kc" x="632" y="711"/><use href="#k4" x="539" y="691"/><use href="#k5" x="503" y="1021"/><use href="#ke" x="510" y="635"/><use href="#k3" x="232" y="716"/><use href="#k3" x="622" y="637"/><use href="#k5" x="505" y="704"/><use href="#k3" x="408" y="1014"/><use href="#k3" x="143" y="817"/><use href="#k5" x="604" y="767"/><use href="#kc" x="280" y="692"/><use href="#kc" x="110" y="863"/><use href="#kb" x="214" y="694"/><use href="#k3" x="541" y="782"/><use href="#kc" x="153" y="786"/><use href="#k2" x="280" y="915"/><use href="#kd" x="173" y="729"/><use href="#k5" x="524" y="669"/><use href="#k3" x="234" y="874"/><use href="#k1" x="422" y="836"/><use href="#k3" x="480" y="925"/><use href="#k1" x="436" y="796"/><use href="#k5" x="321" y="824"/><use href="#kd" x="153" y="934"/><use href="#k1" x="584" y="702"/><use href="#kd" x="662" y="931"/><use href="#k1" x="534" y="732"/><use href="#k2" x="490" y="688"/><use href="#k3" x="317" y="680"/><use href="#ke" x="180" y="773"/><use href="#k5" x="452" y="658"/><use href="#k0" x="522" y="964"/><use href="#k1" x="358" y="659"/><use href="#k4" x="459" y="873"/><use href="#k3" x="421" y="825"/><use href="#k4" x="233" y="982"/><use href="#ke" x="103" y="705"/><use href="#k1" x="644" y="658"/><use href="#k5" x="484" y="773"/><use href="#k4" x="501" y="673"/><use href="#k3" x="469" y="978"/><use href="#k1" x="505" y="713"/><use href="#k2" x="364" y="848"/><use href="#k5" x="171" y="718"/><use href="#k3" x="432" y="723"/><use href="#kb" x="640" y="962"/><use href="#k3" x="465" y="842"/><use href="#k1" x="481" y="849"/><use href="#k4" x="382" y="794"/><use href="#k3" x="482" y="974"/><use href="#ke" x="131" y="645"/><use href="#kc" x="387" y="712"/><use href="#k3" x="352" y="747"/><use href="#ke" x="655" y="962"/><use href="#k2" x="248" y="831"/><use href="#k5" x="647" y="910"/><use href="#k3" x="641" y="912"/><use href="#ke" x="321" y="1003"/><use href="#k3" x="332" y="974"/><use href="#k4" x="277" y="863"/><use href="#kd" x="270" y="662"/><use href="#k0" x="588" y="832"/><use href="#k3" x="514" y="626"/><use href="#k0" x="540" y="655"/><use href="#k3" x="647" y="724"/><use href="#k3" x="649" y="907"/><use href="#kc" x="256" y="815"/><use href="#kd" x="628" y="669"/><use href="#k3" x="286" y="983"/><use href="#k3" x="118" y="966"/><use href="#k1" x="294" y="953"/><use href="#k5" x="527" y="731"/><use href="#ke" x="174" y="656"/><use href="#k0" x="386" y="742"/><use href="#k1" x="287" y="760"/><use href="#k5" x="261" y="716"/><use href="#kc" x="130" y="837"/><use href="#k3" x="122" y="839"/><use href="#kc" x="167" y="916"/><use href="#k5" x="621" y="969"/><use href="#k3" x="349" y="838"/><use href="#k2" x="429" y="784"/><use href="#k2" x="296" y="791"/><use href="#k0" x="598" y="775"/><use href="#k3" x="507" y="690"/><use href="#k3" x="355" y="932"/><use href="#k4" x="631" y="875"/><use href="#kd" x="153" y="805"/><use href="#k2" x="372" y="688"/><use href="#k4" x="575" y="1005"/><use href="#k5" x="341" y="929"/><use href="#k0" x="302" y="1036"/><use href="#ke" x="175" y="940"/><use href="#k0" x="627" y="692"/><use href="#k0" x="399" y="899"/><use href="#k0" x="193" y="988"/><use href="#kc" x="358" y="983"/><use href="#k5" x="438" y="952"/><use href="#k3" x="424" y="648"/><use href="#k3" x="460" y="660"/><use href="#kc" x="136" y="679"/><use href="#k2" x="532" y="693"/><use href="#kb" x="432" y="910"/><use href="#ke" x="192" y="747"/><use href="#kb" x="113" y="727"/><use href="#k4" x="292" y="934"/><use href="#k5" x="311" y="904"/><use href="#kc" x="287" y="732"/><use href="#kb" x="404" y="705"/><use href="#kc" x="215" y="666"/><use href="#k0" x="401" y="895"/><use href="#k2" x="162" y="932"/><use href="#k1" x="275" y="912"/><use href="#kb" x="102" y="776"/><use href="#k3" x="562" y="686"/><use href="#k3" x="201" y="699"/><use href="#k0" x="197" y="727"/><use href="#k3" x="461" y="736"/><use href="#k2" x="379" y="791"/><use href="#k0" x="150" y="953"/><use href="#kc" x="103" y="791"/><use href="#k2" x="503" y="880"/><use href="#k2" x="594" y="966"/><use href="#k3" x="236" y="726"/><use href="#kd" x="148" y="848"/><use href="#k1" x="486" y="876"/><use href="#ke" x="186" y="951"/><use href="#kb" x="493" y="951"/><use href="#k0" x="211" y="909"/><use href="#k5" x="635" y="632"/><use href="#k5" x="501" y="1005"/><use href="#k5" x="536" y="866"/><use href="#k1" x="512" y="960"/><use href="#kd" x="119" y="697"/><use href="#kc" x="378" y="824"/><use href="#k5" x="420" y="871"/><use href="#k1" x="366" y="851"/><use href="#k3" x="373" y="787"/><use href="#kb" x="184" y="841"/><use href="#k2" x="564" y="924"/><use href="#k1" x="529" y="795"/><use href="#kb" x="633" y="636"/><use href="#kb" x="584" y="918"/><use href="#k3" x="364" y="1028"/><use href="#k3" x="295" y="675"/><use href="#kc" x="112" y="1041"/><use href="#kb" x="144" y="668"/><use href="#k3" x="559" y="748"/><use href="#k1" x="385" y="758"/><use href="#k0" x="325" y="730"/><use href="#k3" x="163" y="641"/><use href="#k3" x="383" y="987"/><use href="#k3" x="304" y="740"/><use href="#k2" x="447" y="824"/><use href="#ke" x="586" y="666"/><use href="#k5" x="509" y="832"/><use href="#kc" x="102" y="961"/><use href="#k3" x="508" y="661"/><use href="#k3" x="183" y="836"/><use href="#k2" x="518" y="808"/><use href="#k0" x="647" y="922"/><use href="#k5" x="296" y="787"/><use href="#k3" x="510" y="679"/><use href="#ke" x="111" y="819"/><use href="#k3" x="493" y="798"/><use href="#k2" x="383" y="626"/><use href="#k3" x="525" y="789"/><use href="#k3" x="583" y="799"/><use href="#k2" x="375" y="839"/><use href="#k4" x="264" y="825"/><use href="#k3" x="150" y="781"/><use href="#k3" x="599" y="657"/><use href="#k0" x="467" y="1027"/><use href="#k2" x="434" y="901"/><use href="#k3" x="468" y="1026"/><use href="#kb" x="449" y="832"/><use href="#kc" x="341" y="665"/><use href="#k5" x="575" y="998"/><use href="#k3" x="253" y="658"/><use href="#kb" x="212" y="706"/><use href="#kd" x="188" y="669"/><use href="#kc" x="134" y="702"/><use href="#k3" x="531" y="969"/><use href="#k5" x="533" y="936"/><use href="#ke" x="108" y="915"/><use href="#kd" x="585" y="959"/><use href="#k0" x="567" y="761"/><use href="#k0" x="343" y="880"/><use href="#ke" x="103" y="1026"/><use href="#kd" x="148" y="997"/><use href="#k4" x="276" y="910"/><use href="#k1" x="506" y="636"/><use href="#kc" x="266" y="1039"/><use href="#kc" x="291" y="917"/><use href="#k2" x="379" y="793"/><use href="#k1" x="318" y="1027"/><use href="#k3" x="471" y="882"/><use href="#k1" x="272" y="719"/><use href="#k3" x="389" y="665"/><use href="#k0" x="536" y="745"/><use href="#k2" x="477" y="841"/><use href="#kc" x="359" y="1026"/><use href="#kd" x="206" y="947"/><use href="#k3" x="185" y="1023"/><use href="#kb" x="198" y="657"/><use href="#ke" x="329" y="655"/><use href="#ke" x="173" y="800"/><use href="#k1" x="642" y="1001"/><use href="#k3" x="383" y="976"/><use href="#k3" x="333" y="901"/><use href="#k3" x="564" y="842"/><use href="#ke" x="145" y="885"/><use href="#k5" x="263" y="990"/><use href="#k2" x="277" y="883"/><use href="#k3" x="543" y="839"/><use href="#k5" x="493" y="946"/><use href="#kb" x="553" y="1011"/><use href="#k0" x="267" y="1014"/><use href="#k5" x="132" y="770"/><use href="#ke" x="163" y="878"/><use href="#k4" x="169" y="842"/><use href="#k3" x="505" y="716"/><use href="#k0" x="242" y="695"/><use href="#k3" x="253" y="780"/><use href="#kb" x="644" y="683"/><use href="#k2" x="349" y="976"/><use href="#ke" x="485" y="1022"/><use href="#kb" x="642" y="699"/><use href="#k2" x="402" y="780"/><use href="#k3" x="165" y="859"/><use href="#kd" x="242" y="692"/><use href="#k2" x="151" y="625"/><use href="#k2" x="272" y="814"/><use href="#k2" x="111" y="969"/><use href="#k2" x="327" y="803"/><use href="#k2" x="397" y="860"/><use href="#k0" x="349" y="990"/><use href="#ke" x="460" y="1037"/><use href="#ke" x="191" y="781"/><use href="#ke" x="250" y="819"/><use href="#k1" x="427" y="778"/><use href="#k3" x="292" y="701"/><use href="#kc" x="127" y="813"/><use href="#k0" x="436" y="797"/><use href="#kc" x="652" y="881"/><use href="#k3" x="334" y="866"/><use href="#k1" x="161" y="784"/><use href="#k4" x="339" y="977"/><use href="#k3" x="311" y="989"/><use href="#kd" x="503" y="696"/><use href="#k3" x="600" y="655"/><use href="#k5" x="475" y="881"/><use href="#k0" x="372" y="983"/><use href="#k3" x="267" y="990"/><use href="#k5" x="577" y="806"/><use href="#k3" x="370" y="773"/><use href="#kd" x="116" y="629"/><use href="#k5" x="334" y="781"/><use href="#k4" x="354" y="916"/><use href="#kc" x="614" y="826"/><use href="#k0" x="540" y="715"/><use href="#ke" x="237" y="929"/><use href="#kc" x="594" y="950"/><use href="#k4" x="645" y="874"/><use href="#ke" x="461" y="851"/><use href="#k3" x="622" y="625"/><use href="#k1" x="406" y="1040"/><use href="#kc" x="165" y="893"/><use href="#ke" x="590" y="770"/><use href="#k4" x="196" y="865"/><use href="#ke" x="528" y="985"/><use href="#k3" x="211" y="742"/><use href="#k0" x="653" y="763"/><use href="#kd" x="196" y="1033"/><use href="#k3" x="169" y="811"/><use href="#kb" x="135" y="797"/><use href="#k1" x="377" y="760"/><use href="#k3" x="342" y="653"/><use href="#kd" x="479" y="1022"/><use href="#k2" x="480" y="772"/><use href="#k2" x="399" y="878"/><use href="#k0" x="431" y="797"/><use href="#k5" x="321" y="854"/><use href="#k2" x="416" y="902"/><use href="#k5" x="281" y="749"/><use href="#k4" x="244" y="816"/><use href="#k4" x="480" y="711"/><use href="#kb" x="440" y="672"/><use href="#k1" x="427" y="861"/><use href="#k1" x="597" y="915"/><use href="#k4" x="487" y="757"/><use href="#k2" x="405" y="900"/><use href="#k5" x="287" y="739"/><use href="#k4" x="316" y="640"/><use href="#k1" x="287" y="984"/><use href="#k7" x="320" y="641"/><use href="#k7" x="308" y="643"/><use href="#k8" x="326" y="634"/><use href="#k7" x="285" y="656"/><use href="#k8" x="312" y="643"/><use href="#k7" x="288" y="651"/><use href="#k7" x="297" y="655"/><use href="#k7" x="336" y="632"/><use href="#k6" x="272" y="661"/><use href="#k8" x="320" y="637"/><use href="#k7" x="279" y="663"/><use href="#k8" x="295" y="650"/><use href="#k6" x="296" y="654"/><use href="#k7" x="345" y="631"/><use href="#k6" x="283" y="661"/><use href="#k7" x="301" y="648"/><use href="#k6" x="316" y="642"/><use href="#k8" x="270" y="662"/><use href="#k7" x="310" y="647"/><use href="#k7" x="323" y="637"/><use href="#k7" x="288" y="658"/><use href="#k7" x="341" y="629"/><use href="#k6" x="313" y="645"/><use href="#k6" x="276" y="658"/><use href="#k6" x="335" y="634"/><use href="#k7" x="282" y="655"/><use href="#k8" x="342" y="630"/><use href="#k6" x="313" y="645"/><use href="#k7" x="254" y="670"/><use href="#k6" x="271" y="666"/><use href="#k7" x="292" y="656"/><use href="#k7" x="307" y="650"/><use href="#k6" x="274" y="668"/><use href="#k7" x="312" y="642"/><use href="#k8" x="319" y="640"/><use href="#k7" x="330" y="634"/><use href="#k6" x="264" y="663"/><use href="#k7" x="267" y="667"/><use href="#k7" x="274" y="661"/><use href="#k7" x="301" y="653"/><use href="#k7" x="311" y="647"/><use href="#k6" x="260" y="671"/><use href="#k6" x="299" y="649"/><use href="#k8" x="291" y="653"/><use href="#k8" x="281" y="656"/><path d="M256 671 L290 655 L320 640 L344 627" fill="none" stroke="#222" stroke-opacity="0.3" stroke-width="5" stroke-linejoin="round"/><circle cx="432" cy="655" r="9.3" fill="#000" fill-opacity=".18"/><use href="#k7" x="438" y="663"/><use href="#k7" x="440" y="661"/><use href="#k7" x="438" y="659"/><use href="#k6" x="428" y="659"/><use href="#k6" x="434" y="655"/><use href="#k6" x="442" y="659"/><use href="#k7" x="441" y="658"/><use href="#k8" x="438" y="661"/><use href="#k8" x="438" y="662"/><use href="#k8" x="437" y="647"/><use href="#k7" x="422" y="659"/><use href="#k7" x="432" y="651"/><use href="#k7" x="432" y="656"/><use href="#k7" x="431" y="651"/><use href="#k8" x="439" y="657"/><use href="#k7" x="437" y="649"/><use href="#k7" x="434" y="646"/><use href="#k6" x="434" y="649"/><use href="#k8" x="437" y="646"/><use href="#k7" x="436" y="658"/><use href="#k7" x="430" y="656"/><use href="#k8" x="435" y="648"/><use href="#k6" x="438" y="649"/><use href="#k7" x="432" y="646"/><use href="#k7" x="426" y="664"/><use href="#k6" x="424" y="654"/><use href="#k6" x="427" y="657"/><use href="#k6" x="432" y="665"/><use href="#k7" x="427" y="646"/><use href="#k7" x="434" y="645"/><circle cx="298" cy="747" r="9.3" fill="#000" fill-opacity=".18"/><use href="#k7" x="295" y="747"/><use href="#k7" x="306" y="749"/><use href="#k6" x="297" y="746"/><use href="#k7" x="297" y="748"/><use href="#k8" x="303" y="742"/><use href="#k6" x="295" y="747"/><use href="#k8" x="302" y="749"/><use href="#k7" x="298" y="746"/><use href="#k7" x="303" y="744"/><use href="#k7" x="300" y="751"/><use href="#k6" x="297" y="749"/><use href="#k7" x="302" y="757"/><use href="#k8" x="306" y="752"/><use href="#k6" x="298" y="752"/><use href="#k7" x="306" y="751"/><use href="#k7" x="290" y="747"/><use href="#k7" x="300" y="750"/><use href="#k8" x="305" y="749"/><use href="#k7" x="291" y="742"/><use href="#k7" x="300" y="748"/><use href="#k7" x="299" y="738"/><use href="#k6" x="291" y="744"/><use href="#k8" x="297" y="754"/><use href="#k7" x="306" y="749"/><use href="#k7" x="297" y="745"/><use href="#k6" x="289" y="751"/><use href="#k8" x="308" y="749"/><use href="#k7" x="300" y="742"/><use href="#k7" x="353" y="743"/><use href="#k7" x="359" y="764"/><use href="#k6" x="366" y="761"/><use href="#k7" x="374" y="779"/><use href="#k8" x="366" y="769"/><use href="#k7" x="361" y="752"/><use href="#k8" x="365" y="766"/><use href="#k6" x="371" y="785"/><use href="#k7" x="370" y="778"/><use href="#k7" x="356" y="750"/><use href="#k7" x="366" y="775"/><use href="#k7" x="371" y="778"/><use href="#k8" x="361" y="750"/><use href="#k8" x="360" y="764"/><use href="#k8" x="362" y="768"/><use href="#k7" x="372" y="787"/><use href="#k7" x="360" y="756"/><use href="#k7" x="359" y="755"/><use href="#k8" x="360" y="759"/><use href="#k7" x="371" y="786"/><use href="#k8" x="366" y="773"/><use href="#k7" x="374" y="778"/><use href="#k7" x="354" y="753"/><use href="#k7" x="372" y="775"/><use href="#k7" x="361" y="756"/><use href="#k8" x="359" y="749"/><use href="#k7" x="370" y="772"/><use href="#k7" x="358" y="760"/><use href="#k7" x="367" y="779"/><use href="#k8" x="366" y="769"/><use href="#k7" x="353" y="743"/><use href="#k7" x="364" y="760"/><use href="#k6" x="371" y="771"/><use href="#k7" x="364" y="757"/><use href="#k8" x="367" y="768"/><path d="M356 747 L365 767 L375 786" fill="none" stroke="#222" stroke-opacity="0.3" stroke-width="5" stroke-linejoin="round"/><circle cx="469" cy="800" r="9.3" fill="#000" fill-opacity=".18"/><use href="#k7" x="472" y="790"/><use href="#k6" x="475" y="798"/><use href="#k7" x="473" y="810"/><use href="#k7" x="466" y="807"/><use href="#k7" x="466" y="790"/><use href="#k6" x="475" y="806"/><use href="#k8" x="470" y="799"/><use href="#k6" x="470" y="794"/><use href="#k8" x="469" y="799"/><use href="#k7" x="463" y="801"/><use href="#k7" x="463" y="806"/><use href="#k7" x="472" y="800"/><use href="#k8" x="473" y="798"/><use href="#k6" x="473" y="807"/><use href="#k7" x="462" y="797"/><use href="#k8" x="466" y="790"/><use href="#k6" x="465" y="803"/><use href="#k6" x="464" y="800"/><use href="#k7" x="476" y="808"/><use href="#k7" x="474" y="802"/><use href="#k6" x="470" y="803"/><use href="#k7" x="469" y="807"/><use href="#k8" x="467" y="810"/><use href="#k6" x="473" y="806"/><use href="#k7" x="460" y="797"/><use href="#k6" x="461" y="807"/><use href="#k8" x="473" y="793"/><use href="#k7" x="464" y="799"/><use href="#k6" x="478" y="797"/><use href="#k6" x="464" y="803"/><use href="#k7" x="474" y="799"/><use href="#k8" x="472" y="809"/><use href="#k7" x="479" y="800"/><use href="#k6" x="464" y="800"/><use href="#k7" x="468" y="791"/><use href="#k7" x="597" y="771"/><use href="#k6" x="614" y="799"/><use href="#k6" x="610" y="802"/><use href="#k6" x="600" y="772"/><use href="#k6" x="597" y="773"/><use href="#k6" x="617" y="807"/><use href="#k7" x="608" y="788"/><use href="#k8" x="599" y="774"/><use href="#k7" x="598" y="764"/><use href="#k8" x="596" y="766"/><use href="#k7" x="596" y="759"/><use href="#k8" x="591" y="758"/><use href="#k8" x="586" y="744"/><use href="#k7" x="608" y="799"/><use href="#k7" x="607" y="794"/><use href="#k8" x="592" y="763"/><use href="#k7" x="600" y="768"/><use href="#k7" x="602" y="775"/><use href="#k6" x="587" y="756"/><use href="#k8" x="601" y="779"/><use href="#k7" x="603" y="774"/><use href="#k7" x="598" y="774"/><use href="#k7" x="621" y="817"/><use href="#k6" x="609" y="799"/><use href="#k7" x="593" y="757"/><use href="#k8" x="613" y="797"/><use href="#k6" x="600" y="782"/><use href="#k6" x="592" y="758"/><use href="#k8" x="587" y="750"/><use href="#k7" x="590" y="753"/><use href="#k6" x="607" y="780"/><use href="#k8" x="604" y="779"/><use href="#k6" x="591" y="749"/><use href="#k7" x="621" y="812"/><use href="#k6" x="583" y="744"/><path d="M586 744 L600 775 L620 816" fill="none" stroke="#222" stroke-opacity="0.3" stroke-width="5" stroke-linejoin="round"/><circle cx="586" cy="744" r="7.6" fill="#000" fill-opacity=".18"/><use href="#k8" x="585" y="748"/><use href="#k7" x="586" y="753"/><use href="#k8" x="582" y="743"/><use href="#k8" x="592" y="747"/><use href="#k7" x="587" y="742"/><use href="#k6" x="583" y="749"/><use href="#k6" x="581" y="749"/><use href="#k6" x="592" y="744"/><use href="#k7" x="591" y="746"/><use href="#k6" x="583" y="752"/><use href="#k6" x="583" y="740"/><use href="#k6" x="594" y="741"/><use href="#k6" x="591" y="738"/><use href="#k7" x="588" y="751"/><use href="#k7" x="587" y="753"/><use href="#k7" x="131" y="782"/><use href="#k7" x="174" y="782"/><use href="#k7" x="179" y="780"/><use href="#k8" x="156" y="782"/><use href="#k6" x="166" y="776"/><use href="#k7" x="173" y="780"/><use href="#k7" x="125" y="785"/><use href="#k7" x="187" y="781"/><use href="#k6" x="154" y="778"/><use href="#k8" x="148" y="778"/><use href="#k6" x="120" y="781"/><use href="#k7" x="190" y="781"/><use href="#k7" x="163" y="777"/><use href="#k7" x="179" y="779"/><use href="#k8" x="180" y="780"/><use href="#k8" x="156" y="778"/><use href="#k6" x="129" y="781"/><use href="#k6" x="166" y="781"/><use href="#k6" x="176" y="777"/><use href="#k7" x="172" y="777"/><use href="#k7" x="183" y="781"/><use href="#k7" x="147" y="781"/><use href="#k8" x="154" y="780"/><use href="#k8" x="164" y="775"/><use href="#k8" x="188" y="783"/><path d="M122 782 L160 778 L191 782" fill="none" stroke="#222" stroke-opacity="0.3" stroke-width="5" stroke-linejoin="round"/><circle cx="306" cy="882" r="13.6" fill="#000" fill-opacity=".18"/><use href="#k8" x="300" y="892"/><use href="#k7" x="295" y="880"/><use href="#k7" x="322" y="882"/><use href="#k8" x="311" y="886"/><use href="#k7" x="313" y="872"/><use href="#k7" x="322" y="881"/><use href="#k7" x="309" y="885"/><use href="#k7" x="300" y="876"/><use href="#k7" x="319" y="890"/><use href="#k7" x="304" y="894"/><use href="#k7" x="316" y="874"/><use href="#k6" x="315" y="879"/><use href="#k7" x="303" y="893"/><use href="#k7" x="304" y="888"/><use href="#k7" x="303" y="867"/><use href="#k7" x="297" y="890"/><use href="#k7" x="316" y="874"/><use href="#k7" x="319" y="886"/><use href="#k8" x="297" y="885"/><use href="#k8" x="298" y="888"/><use href="#k8" x="307" y="867"/><use href="#k7" x="306" y="871"/><use href="#k7" x="298" y="877"/><use href="#k7" x="308" y="898"/><use href="#k7" x="305" y="896"/><use href="#k7" x="301" y="884"/><use href="#k8" x="292" y="889"/><use href="#k7" x="310" y="893"/><use href="#k8" x="310" y="883"/><use href="#k7" x="317" y="876"/><use href="#k6" x="308" y="890"/><use href="#k8" x="295" y="885"/><use href="#k7" x="316" y="891"/><use href="#k7" x="300" y="876"/><use href="#k6" x="311" y="884"/><use href="#k7" x="306" y="877"/><use href="#k7" x="319" y="888"/><use href="#k8" x="318" y="876"/><use href="#k6" x="301" y="875"/><use href="#k7" x="309" y="874"/><use href="#k8" x="298" y="885"/><use href="#k7" x="306" y="879"/><use href="#k7" x="304" y="878"/><use href="#k7" x="301" y="874"/><use href="#k7" x="312" y="896"/><circle cx="137" cy="886" r="15.3" fill="#000" fill-opacity=".18"/><use href="#k7" x="145" y="876"/><use href="#k7" x="131" y="891"/><use href="#k7" x="145" y="892"/><use href="#k7" x="153" y="879"/><use href="#k7" x="142" y="891"/><use href="#k7" x="142" y="883"/><use href="#k7" x="123" y="875"/><use href="#k7" x="137" y="893"/><use href="#k8" x="137" y="901"/><use href="#k8" x="129" y="885"/><use href="#k6" x="147" y="897"/><use href="#k7" x="125" y="894"/><use href="#k8" x="141" y="871"/><use href="#k7" x="144" y="888"/><use href="#k6" x="151" y="884"/><use href="#k6" x="149" y="878"/><use href="#k6" x="151" y="897"/><use href="#k6" x="143" y="887"/><use href="#k6" x="127" y="900"/><use href="#k6" x="135" y="869"/><use href="#k6" x="151" y="877"/><use href="#k6" x="130" y="871"/><use href="#k7" x="121" y="884"/><use href="#k7" x="151" y="879"/><use href="#k6" x="132" y="881"/><use href="#k8" x="140" y="887"/><use href="#k8" x="134" y="899"/><use href="#k7" x="143" y="900"/><use href="#k7" x="133" y="871"/><use href="#k7" x="135" y="877"/><use href="#k7" x="128" y="873"/><use href="#k7" x="144" y="878"/><use href="#k6" x="120" y="884"/><use href="#k8" x="147" y="882"/><use href="#k8" x="153" y="887"/><use href="#k7" x="139" y="903"/><use href="#k8" x="136" y="873"/><use href="#k6" x="141" y="869"/><use href="#k8" x="147" y="879"/><use href="#k6" x="127" y="888"/><use href="#k8" x="128" y="900"/><use href="#k6" x="127" y="873"/><use href="#k6" x="127" y="874"/><use href="#k8" x="144" y="891"/><use href="#k7" x="141" y="883"/><use href="#k6" x="156" y="935"/><use href="#k7" x="240" y="982"/><use href="#k8" x="233" y="979"/><use href="#k6" x="320" y="1034"/><use href="#k7" x="273" y="1003"/><use href="#k8" x="142" y="904"/><use href="#k8" x="307" y="1019"/><use href="#k7" x="172" y="951"/><use href="#k6" x="232" y="976"/><use href="#k6" x="332" y="1033"/><use href="#k8" x="150" y="917"/><use href="#k6" x="146" y="919"/><use href="#k7" x="294" y="1017"/><use href="#k8" x="182" y="955"/><use href="#k8" x="143" y="905"/><use href="#k8" x="255" y="988"/><use href="#k8" x="148" y="911"/><use href="#k7" x="209" y="962"/><use href="#k8" x="324" y="1029"/><use href="#k6" x="147" y="904"/><use href="#k7" x="146" y="908"/><use href="#k6" x="145" y="904"/><use href="#k7" x="149" y="916"/><use href="#k7" x="280" y="1008"/><use href="#k7" x="293" y="1019"/><use href="#k6" x="192" y="960"/><use href="#k6" x="154" y="927"/><use href="#k8" x="281" y="1009"/><use href="#k6" x="141" y="904"/><use href="#k7" x="225" y="972"/><use href="#k7" x="150" y="923"/><use href="#k7" x="309" y="1022"/><use href="#k6" x="224" y="975"/><use href="#k8" x="211" y="966"/><use href="#k8" x="158" y="943"/><use href="#k8" x="215" y="971"/><use href="#k7" x="213" y="964"/><use href="#k7" x="160" y="948"/><use href="#k7" x="148" y="913"/><use href="#k7" x="229" y="979"/><use href="#k8" x="253" y="993"/><use href="#k7" x="179" y="954"/><use href="#k8" x="292" y="1010"/><use href="#k6" x="137" y="902"/><use href="#k7" x="165" y="947"/><use href="#k8" x="220" y="970"/><use href="#k7" x="254" y="988"/><use href="#k7" x="166" y="949"/><use href="#k6" x="154" y="932"/><use href="#k8" x="327" y="1038"/><use href="#k8" x="321" y="1029"/><use href="#k8" x="254" y="987"/><use href="#k7" x="307" y="1020"/><use href="#k8" x="161" y="945"/><use href="#k7" x="267" y="1001"/><use href="#k8" x="323" y="1034"/><use href="#k6" x="308" y="1019"/><use href="#k7" x="143" y="913"/><use href="#k7" x="159" y="944"/><use href="#k6" x="147" y="912"/><use href="#k7" x="321" y="1031"/><use href="#k6" x="176" y="956"/><use href="#k6" x="185" y="956"/><use href="#k7" x="295" y="1009"/><use href="#k7" x="141" y="909"/><use href="#k7" x="253" y="988"/><use href="#k8" x="211" y="966"/><use href="#k8" x="185" y="954"/><use href="#k8" x="188" y="953"/><use href="#k7" x="224" y="971"/><path d="M140 900 L150 925 L166 952 L195 957 L230 976 L264 998 L298 1016 L333 1037" fill="none" stroke="#222" stroke-opacity="0.3" stroke-width="5" stroke-linejoin="round"/><use href="#k7" x="168" y="982"/><use href="#k6" x="168" y="962"/><use href="#k7" x="164" y="980"/><use href="#k6" x="164" y="965"/><use href="#k8" x="168" y="953"/><use href="#k7" x="167" y="972"/><use href="#k7" x="165" y="980"/><use href="#k8" x="165" y="975"/><path d="M166 952 L166 981" fill="none" stroke="#222" stroke-opacity="0.3" stroke-width="5" stroke-linejoin="round"/><circle cx="394" cy="905" r="7.6" fill="#000" fill-opacity=".18"/><use href="#k8" x="401" y="906"/><use href="#k7" x="389" y="909"/><use href="#k6" x="388" y="902"/><use href="#k6" x="401" y="907"/><use href="#k6" x="401" y="909"/><use href="#k6" x="391" y="910"/><use href="#k7" x="398" y="907"/><use href="#k6" x="401" y="901"/><use href="#k6" x="398" y="899"/><use href="#k7" x="396" y="898"/><use href="#k8" x="392" y="901"/><use href="#k7" x="389" y="898"/><use href="#k8" x="401" y="909"/><use href="#k7" x="390" y="907"/><use href="#k7" x="393" y="900"/><use href="#k7" x="388" y="903"/><use href="#k7" x="389" y="900"/><use href="#k7" x="394" y="912"/><circle cx="471" cy="882" r="7.6" fill="#000" fill-opacity=".18"/><use href="#k7" x="462" y="882"/><use href="#k7" x="469" y="880"/><use href="#k6" x="464" y="880"/><use href="#k7" x="467" y="890"/><use href="#k6" x="476" y="875"/><use href="#k6" x="470" y="880"/><use href="#k7" x="464" y="877"/><use href="#k7" x="472" y="883"/><use href="#k7" x="466" y="884"/><use href="#k7" x="470" y="874"/><use href="#k8" x="475" y="886"/><use href="#k8" x="468" y="883"/><use href="#k7" x="476" y="889"/><use href="#k7" x="473" y="886"/><use href="#k6" x="468" y="876"/><use href="#k6" x="477" y="889"/><use href="#k8" x="465" y="884"/><use href="#k7" x="479" y="878"/><use href="#k7" x="451" y="944"/><use href="#k6" x="429" y="940"/><use href="#k7" x="466" y="946"/><use href="#k7" x="487" y="943"/><use href="#k8" x="426" y="945"/><use href="#k6" x="479" y="940"/><use href="#k8" x="483" y="942"/><use href="#k6" x="481" y="945"/><use href="#k7" x="432" y="942"/><use href="#k7" x="449" y="946"/><use href="#k7" x="441" y="944"/><use href="#k7" x="458" y="944"/><use href="#k6" x="459" y="942"/><use href="#k7" x="477" y="940"/><use href="#k6" x="448" y="941"/><use href="#k7" x="430" y="942"/><use href="#k7" x="439" y="943"/><use href="#k7" x="476" y="944"/><use href="#k7" x="441" y="942"/><use href="#k7" x="444" y="945"/><use href="#k8" x="472" y="946"/><use href="#k7" x="488" y="946"/><use href="#k7" x="438" y="946"/><use href="#k6" x="437" y="946"/><use href="#k6" x="465" y="942"/><use href="#k7" x="438" y="943"/><use href="#k7" x="439" y="945"/><use href="#k8" x="425" y="941"/><use href="#k7" x="452" y="941"/><use href="#k7" x="463" y="943"/><path d="M425 943 L490 943" fill="none" stroke="#222" stroke-opacity="0.3" stroke-width="5" stroke-linejoin="round"/><circle cx="544" cy="962" r="11" fill="#000" fill-opacity=".18"/><use href="#k7" x="549" y="958"/><use href="#k7" x="549" y="954"/><use href="#k7" x="539" y="951"/><use href="#k7" x="549" y="959"/><use href="#k7" x="548" y="968"/><use href="#k7" x="556" y="966"/><use href="#k8" x="537" y="965"/><use href="#k8" x="535" y="968"/><use href="#k6" x="550" y="969"/><use href="#k8" x="554" y="966"/><use href="#k7" x="548" y="971"/><use href="#k7" x="540" y="962"/><use href="#k7" x="547" y="968"/><use href="#k7" x="545" y="973"/><use href="#k7" x="555" y="967"/><use href="#k8" x="546" y="974"/><use href="#k7" x="545" y="950"/><use href="#k8" x="551" y="972"/><use href="#k7" x="539" y="956"/><use href="#k7" x="551" y="973"/><use href="#k7" x="554" y="969"/><use href="#k8" x="538" y="952"/><use href="#k6" x="547" y="953"/><use href="#k7" x="554" y="955"/><use href="#k7" x="537" y="965"/><use href="#k8" x="538" y="972"/><use href="#k6" x="538" y="962"/><use href="#k7" x="539" y="967"/><use href="#k8" x="543" y="968"/><use href="#k6" x="548" y="956"/><circle cx="379" cy="970" r="8.5" fill="#000" fill-opacity=".18"/><use href="#k8" x="383" y="971"/><use href="#k7" x="385" y="971"/><use href="#k7" x="371" y="975"/><use href="#k8" x="377" y="968"/><use href="#k8" x="379" y="975"/><use href="#k7" x="376" y="972"/><use href="#k6" x="381" y="972"/><use href="#k7" x="378" y="973"/><use href="#k7" x="371" y="975"/><use href="#k7" x="370" y="968"/><use href="#k7" x="384" y="973"/><use href="#k8" x="385" y="963"/><use href="#k7" x="385" y="972"/><use href="#k7" x="373" y="973"/><use href="#k7" x="381" y="964"/><use href="#k8" x="381" y="969"/><use href="#k6" x="376" y="975"/><use href="#k6" x="374" y="966"/><use href="#k7" x="610" y="897"/><use href="#k7" x="594" y="893"/><use href="#k8" x="606" y="898"/><use href="#k7" x="654" y="922"/><use href="#k7" x="631" y="911"/><use href="#k8" x="626" y="906"/><use href="#k8" x="611" y="901"/><use href="#k8" x="627" y="907"/><use href="#k7" x="623" y="907"/><use href="#k7" x="630" y="908"/><use href="#k6" x="639" y="912"/><use href="#k7" x="605" y="896"/><use href="#k7" x="642" y="911"/><use href="#k7" x="656" y="924"/><use href="#k8" x="633" y="911"/><use href="#k8" x="647" y="921"/><use href="#k7" x="603" y="894"/><use href="#k7" x="618" y="904"/><use href="#k7" x="635" y="909"/><use href="#k7" x="626" y="908"/><use href="#k7" x="606" y="900"/><use href="#k6" x="629" y="910"/><use href="#k6" x="656" y="919"/><use href="#k7" x="621" y="901"/><use href="#k7" x="616" y="903"/><path d="M594 893 L625 905 L659 924" fill="none" stroke="#222" stroke-opacity="0.3" stroke-width="5" stroke-linejoin="round"/><circle cx="590" cy="928" r="6.8" fill="#000" fill-opacity=".18"/><use href="#k8" x="584" y="925"/><use href="#k8" x="589" y="926"/><use href="#k7" x="588" y="933"/><use href="#k6" x="589" y="930"/><use href="#k7" x="590" y="934"/><use href="#k7" x="595" y="924"/><use href="#k7" x="596" y="923"/><use href="#k7" x="592" y="932"/><use href="#k7" x="590" y="929"/><use href="#k7" x="598" y="927"/><use href="#k7" x="584" y="924"/><use href="#k7" x="596" y="925"/><use href="#k8" x="585" y="933"/><use href="#k7" x="588" y="929"/><use href="#k6" x="641" y="680"/><use href="#k7" x="627" y="659"/><use href="#k8" x="631" y="664"/><use href="#k8" x="629" y="665"/><use href="#k7" x="640" y="676"/><use href="#k6" x="633" y="667"/><use href="#k7" x="643" y="674"/><use href="#k6" x="634" y="666"/><use href="#k6" x="646" y="682"/><use href="#k7" x="638" y="675"/><use href="#k6" x="635" y="672"/><use href="#k6" x="626" y="665"/><use href="#k7" x="644" y="679"/><use href="#k7" x="646" y="681"/><use href="#k7" x="648" y="683"/><path d="M626 660 L636 671 L650 685" fill="none" stroke="#222" stroke-opacity="0.3" stroke-width="5" stroke-linejoin="round"/><circle cx="532" cy="678" r="6" fill="#000" fill-opacity=".18"/><use href="#k7" x="537" y="679"/><use href="#k7" x="535" y="683"/><use href="#k8" x="531" y="674"/><use href="#k7" x="530" y="675"/><use href="#k8" x="535" y="673"/><use href="#k8" x="530" y="685"/><use href="#k7" x="529" y="677"/><use href="#k7" x="536" y="682"/><use href="#k8" x="531" y="680"/><use href="#k8" x="533" y="680"/><circle cx="567" cy="1035" r="8.5" fill="#000" fill-opacity=".18"/><use href="#k6" x="563" y="1026"/><use href="#k6" x="568" y="1045"/><use href="#k7" x="567" y="1031"/><use href="#k7" x="570" y="1042"/><use href="#k7" x="567" y="1041"/><use href="#k7" x="568" y="1031"/><use href="#k7" x="559" y="1038"/><use href="#k7" x="560" y="1028"/><use href="#k7" x="565" y="1036"/><use href="#k8" x="575" y="1032"/><use href="#k8" x="558" y="1037"/><use href="#k6" x="568" y="1038"/><use href="#k8" x="566" y="1032"/><use href="#k7" x="564" y="1035"/><use href="#k6" x="576" y="1033"/><use href="#k7" x="566" y="1040"/><use href="#k8" x="566" y="1025"/><use href="#k6" x="564" y="1030"/><use href="#k8" x="525" y="838"/><use href="#k7" x="526" y="837"/><use href="#k8" x="528" y="835"/><use href="#k8" x="509" y="856"/><use href="#k7" x="508" y="852"/><use href="#k7" x="512" y="851"/><use href="#k7" x="509" y="855"/><use href="#k7" x="507" y="858"/><use href="#k8" x="519" y="848"/><use href="#k8" x="509" y="854"/><use href="#k7" x="523" y="838"/><use href="#k7" x="528" y="836"/><use href="#k6" x="508" y="853"/><use href="#k7" x="508" y="855"/><use href="#k7" x="531" y="834"/><path d="M505 860 L517 847 L530 835" fill="none" stroke="#222" stroke-opacity="0.3" stroke-width="5" stroke-linejoin="round"/><circle cx="379" cy="696" r="5.1" fill="#000" fill-opacity=".18"/><use href="#k8" x="378" y="690"/><use href="#k8" x="374" y="697"/><use href="#k7" x="382" y="693"/><use href="#k6" x="375" y="700"/><use href="#k8" x="376" y="697"/><use href="#k7" x="380" y="696"/><use href="#k8" x="378" y="696"/><use href="#k7" x="382" y="694"/>
</g>
<rect x="905.2" y="55" width="68.2" height="47.6" fill="#6e6e72"/>
<rect x="905.2" y="126.5" width="68.2" height="47.5" fill="#2fa858"/>
<rect x="1134.2" y="54.7" width="68.5" height="47.5" fill="#27aae1"/>
<rect x="1134.2" y="126.2" width="68.5" height="47.1" fill="#2e4496"/>
<text transform="translate(989.8 93.6) scale(1 1.070)" font-size="41.4" font-weight="bold" fill="#231f20">Empty</text>
<text transform="translate(989.5 165.9) scale(1 1.070)" font-size="41.4" font-weight="bold" fill="#231f20">SLPI</text>
<text transform="translate(1216.3 95.6) scale(1 1.090)" font-size="41.5" font-weight="bold" fill="#231f20">SERPINE2 (NM_0016216)</text>
<text transform="translate(1216.3 164.3) scale(1 1.090)" font-size="41.5" font-weight="bold" fill="#231f20">SERPINE2 (NM_001136528)</text>
<line x1="902.2" y1="879.9" x2="1758" y2="879.9" stroke="#555" stroke-width="1.7" stroke-dasharray="12 21.2" stroke-dashoffset="1.2"/>
<line x1="902.2" y1="777.4" x2="1758" y2="777.4" stroke="#555" stroke-width="1.7" stroke-dasharray="12 21.2" stroke-dashoffset="1.2"/>
<line x1="902.2" y1="674.9" x2="1758" y2="674.9" stroke="#555" stroke-width="1.7" stroke-dasharray="12 21.2" stroke-dashoffset="1.2"/>
<line x1="902.2" y1="572.4" x2="1758" y2="572.4" stroke="#555" stroke-width="1.7" stroke-dasharray="12 21.2" stroke-dashoffset="1.2"/>
<line x1="902.2" y1="469.9" x2="1758" y2="469.9" stroke="#555" stroke-width="1.7" stroke-dasharray="12 21.2" stroke-dashoffset="1.2"/>
<line x1="902.2" y1="367.4" x2="1758" y2="367.4" stroke="#555" stroke-width="1.7" stroke-dasharray="12 21.2" stroke-dashoffset="1.2"/>
<line x1="902.2" y1="264.9" x2="1758" y2="264.9" stroke="#555" stroke-width="1.7" stroke-dasharray="12 21.2" stroke-dashoffset="1.2"/>
<rect x="928.4" y="931.1" width="53.2" height="51.2" fill="#6e6e72"/>
<rect x="1027.4" y="399.2" width="53.2" height="583.2" fill="#27aae1"/>
<rect x="1125.9" y="808.1" width="53.2" height="174.2" fill="#2e4496"/>
<rect x="1225.2" y="797.9" width="53.2" height="184.5" fill="#2fa858"/>
<rect x="1480.2" y="828.6" width="53.2" height="153.8" fill="#27aae1"/>
<rect x="1578.2" y="900.4" width="53.2" height="82" fill="#2e4496"/>
<rect x="1677.8" y="808.1" width="53.2" height="174.2" fill="#2fa858"/>
<line x1="955" y1="951.6" x2="955" y2="849.1" stroke="#cc2229" stroke-width="3.8" stroke-dasharray="16 17.3"/>
<line x1="942" y1="849.1" x2="968" y2="849.1" stroke="#cc2229" stroke-width="3.8"/>
<line x1="942" y1="951.6" x2="968" y2="951.6" stroke="#cc2229" stroke-width="3.8"/>
<line x1="1054" y1="501.7" x2="1054" y2="295.6" stroke="#cc2229" stroke-width="3.8" stroke-dasharray="16 17.3"/>
<line x1="1041" y1="295.6" x2="1067" y2="295.6" stroke="#cc2229" stroke-width="3.8"/>
<line x1="1041" y1="501.7" x2="1067" y2="501.7" stroke="#cc2229" stroke-width="3.8"/>
<line x1="1152.5" y1="879.9" x2="1152.5" y2="674.9" stroke="#cc2229" stroke-width="3.8" stroke-dasharray="16 17.3"/>
<line x1="1139.5" y1="674.9" x2="1165.5" y2="674.9" stroke="#cc2229" stroke-width="3.8"/>
<line x1="1139.5" y1="879.9" x2="1165.5" y2="879.9" stroke="#cc2229" stroke-width="3.8"/>
<line x1="1251.8" y1="818.4" x2="1251.8" y2="685.1" stroke="#cc2229" stroke-width="3.8" stroke-dasharray="16 17.3"/>
<line x1="1238.8" y1="685.1" x2="1264.8" y2="685.1" stroke="#cc2229" stroke-width="3.8"/>
<line x1="1238.8" y1="818.4" x2="1264.8" y2="818.4" stroke="#cc2229" stroke-width="3.8"/>
<line x1="1506.8" y1="894.2" x2="1506.8" y2="818.4" stroke="#cc2229" stroke-width="3.8" stroke-dasharray="16 17.3"/>
<line x1="1493.8" y1="818.4" x2="1519.8" y2="818.4" stroke="#cc2229" stroke-width="3.8"/>
<line x1="1493.8" y1="894.2" x2="1519.8" y2="894.2" stroke="#cc2229" stroke-width="3.8"/>
<line x1="1604.8" y1="920.9" x2="1604.8" y2="869.6" stroke="#cc2229" stroke-width="3.8" stroke-dasharray="16 17.3"/>
<line x1="1591.8" y1="869.6" x2="1617.8" y2="869.6" stroke="#cc2229" stroke-width="3.8"/>
<line x1="1591.8" y1="920.9" x2="1617.8" y2="920.9" stroke="#cc2229" stroke-width="3.8"/>
<line x1="1704.4" y1="832.8" x2="1704.4" y2="777.4" stroke="#cc2229" stroke-width="3.8" stroke-dasharray="16 17.3"/>
<line x1="1691.4" y1="777.4" x2="1717.4" y2="777.4" stroke="#cc2229" stroke-width="3.8"/>
<line x1="1691.4" y1="832.8" x2="1717.4" y2="832.8" stroke="#cc2229" stroke-width="3.8"/>
<rect x="902.2" y="198.8" width="855.8" height="783.8" fill="none" stroke="#1a1a1a" stroke-width="2"/>
<line x1="890" y1="982.4" x2="902.2" y2="982.4" stroke="#1a1a1a" stroke-width="1.8"/>
<line x1="1758" y1="982.4" x2="1769" y2="982.4" stroke="#1a1a1a" stroke-width="1.8"/>
<text x="879" y="991.2" font-size="32.5" text-anchor="end" fill="#231f20">0</text>
<line x1="890" y1="879.9" x2="902.2" y2="879.9" stroke="#1a1a1a" stroke-width="1.8"/>
<line x1="1758" y1="879.9" x2="1769" y2="879.9" stroke="#1a1a1a" stroke-width="1.8"/>
<text x="879" y="888.7" font-size="32.5" text-anchor="end" fill="#231f20">5</text>
<line x1="890" y1="777.4" x2="902.2" y2="777.4" stroke="#1a1a1a" stroke-width="1.8"/>
<line x1="1758" y1="777.4" x2="1769" y2="777.4" stroke="#1a1a1a" stroke-width="1.8"/>
<text x="879" y="786.2" font-size="32.5" text-anchor="end" fill="#231f20">10</text>
<line x1="890" y1="674.9" x2="902.2" y2="674.9" stroke="#1a1a1a" stroke-width="1.8"/>
<line x1="1758" y1="674.9" x2="1769" y2="674.9" stroke="#1a1a1a" stroke-width="1.8"/>
<text x="879" y="683.7" font-size="32.5" text-anchor="end" fill="#231f20">15</text>
<line x1="890" y1="572.4" x2="902.2" y2="572.4" stroke="#1a1a1a" stroke-width="1.8"/>
<line x1="1758" y1="572.4" x2="1769" y2="572.4" stroke="#1a1a1a" stroke-width="1.8"/>
<text x="879" y="581.2" font-size="32.5" text-anchor="end" fill="#231f20">20</text>
<line x1="890" y1="469.9" x2="902.2" y2="469.9" stroke="#1a1a1a" stroke-width="1.8"/>
<line x1="1758" y1="469.9" x2="1769" y2="469.9" stroke="#1a1a1a" stroke-width="1.8"/>
<text x="879" y="478.7" font-size="32.5" text-anchor="end" fill="#231f20">25</text>
<line x1="890" y1="367.4" x2="902.2" y2="367.4" stroke="#1a1a1a" stroke-width="1.8"/>
<line x1="1758" y1="367.4" x2="1769" y2="367.4" stroke="#1a1a1a" stroke-width="1.8"/>
<text x="879" y="376.2" font-size="32.5" text-anchor="end" fill="#231f20">30</text>
<line x1="890" y1="264.9" x2="902.2" y2="264.9" stroke="#1a1a1a" stroke-width="1.8"/>
<line x1="1758" y1="264.9" x2="1769" y2="264.9" stroke="#1a1a1a" stroke-width="1.8"/>
<text x="879" y="273.7" font-size="32.5" text-anchor="end" fill="#231f20">35</text>
<rect x="928.5" y="992.3" width="350.1" height="7.4" fill="#1e1e1e"/>
<rect x="1398.4" y="992.3" width="334.1" height="7.4" fill="#1e1e1e"/>
<text transform="translate(1115.3 1043.6) scale(1 1.010)" font-size="40.8" font-weight="bold" text-anchor="middle" fill="#231f20">MDA-MB-231</text>
<text transform="translate(1575.5 1043.6) scale(1 1.010)" font-size="40.8" font-weight="bold" text-anchor="middle" fill="#231f20">MDA-MB-436</text>
<text transform="translate(820 593) rotate(-90)" font-size="41.3" font-weight="bold" text-anchor="middle" fill="#231f20">Tubes/5X Image</text>
<line x1="152.3" y1="1260.6" x2="860" y2="1260.6" stroke="#2a2a2a" stroke-width="2" stroke-dasharray="12.4 20.7" stroke-dashoffset="0"/>
<line x1="138" y1="1260.6" x2="151" y2="1260.6" stroke="#2a2a2a" stroke-width="2"/>
<line x1="856" y1="1260.6" x2="867.4" y2="1260.6" stroke="#2a2a2a" stroke-width="2"/>
<line x1="152.3" y1="1354.2" x2="860" y2="1354.2" stroke="#2a2a2a" stroke-width="2" stroke-dasharray="12.4 20.7" stroke-dashoffset="0"/>
<line x1="138" y1="1354.2" x2="151" y2="1354.2" stroke="#2a2a2a" stroke-width="2"/>
<line x1="856" y1="1354.2" x2="867.4" y2="1354.2" stroke="#2a2a2a" stroke-width="2"/>
<line x1="152.3" y1="1447.8" x2="860" y2="1447.8" stroke="#2a2a2a" stroke-width="2" stroke-dasharray="12.4 20.7" stroke-dashoffset="0"/>
<line x1="138" y1="1447.8" x2="151" y2="1447.8" stroke="#2a2a2a" stroke-width="2"/>
<line x1="856" y1="1447.8" x2="867.4" y2="1447.8" stroke="#2a2a2a" stroke-width="2"/>
<line x1="152.3" y1="1541.5" x2="860" y2="1541.5" stroke="#2a2a2a" stroke-width="2" stroke-dasharray="12.4 20.7" stroke-dashoffset="0"/>
<line x1="138" y1="1541.5" x2="151" y2="1541.5" stroke="#2a2a2a" stroke-width="2"/>
<line x1="856" y1="1541.5" x2="867.4" y2="1541.5" stroke="#2a2a2a" stroke-width="2"/>
<line x1="152.3" y1="1635.1" x2="860" y2="1635.1" stroke="#2a2a2a" stroke-width="2" stroke-dasharray="12.4 20.7" stroke-dashoffset="0"/>
<line x1="138" y1="1635.1" x2="151" y2="1635.1" stroke="#2a2a2a" stroke-width="2"/>
<line x1="856" y1="1635.1" x2="867.4" y2="1635.1" stroke="#2a2a2a" stroke-width="2"/>
<text x="126.8" y="1277.2" font-size="32.5" text-anchor="end" fill="#231f20">40</text>
<text x="126.8" y="1370.8" font-size="32.5" text-anchor="end" fill="#231f20">35</text>
<text x="126.8" y="1464.4" font-size="32.5" text-anchor="end" fill="#231f20">25</text>
<text x="126.8" y="1558.1" font-size="32.5" text-anchor="end" fill="#231f20">20</text>
<text x="126.8" y="1651.7" font-size="32.5" text-anchor="end" fill="#231f20">15</text>
<line x1="239.1" y1="1541.9" x2="239.1" y2="1448.1" stroke="#cc2229" stroke-width="4.4" stroke-dasharray="14 19.5"/>
<line x1="239.1" y1="1637.5" x2="239.1" y2="1707.4" stroke="#cc2229" stroke-width="4.4" stroke-dasharray="14 19.5"/>
<rect x="195.3" y="1541.9" width="87.5" height="95.6" fill="#6e6e72"/>
<line x1="195.3" y1="1577.9" x2="282.9" y2="1577.9" stroke="#cc2229" stroke-width="8"/>
<line x1="217.1" y1="1448.1" x2="261.1" y2="1448.1" stroke="#cc2229" stroke-width="4.4"/>
<line x1="217.1" y1="1707.4" x2="261.1" y2="1707.4" stroke="#cc2229" stroke-width="4.4"/>
<line x1="415.5" y1="1541.4" x2="415.5" y2="1485.4" stroke="#cc2229" stroke-width="4.4" stroke-dasharray="14 19.5"/>
<line x1="415.5" y1="1612.5" x2="415.5" y2="1655.3" stroke="#cc2229" stroke-width="4.4" stroke-dasharray="14 19.5"/>
<rect x="371.8" y="1541.4" width="87.5" height="71.1" fill="#27aae1"/>
<line x1="371.8" y1="1579.1" x2="459.2" y2="1579.1" stroke="#cc2229" stroke-width="8"/>
<line x1="393.5" y1="1485.4" x2="437.5" y2="1485.4" stroke="#cc2229" stroke-width="4.4"/>
<line x1="393.5" y1="1655.3" x2="437.5" y2="1655.3" stroke="#cc2229" stroke-width="4.4"/>
<line x1="591.7" y1="1289.5" x2="591.7" y2="1204.8" stroke="#cc2229" stroke-width="4.4" stroke-dasharray="14 19.5"/>
<line x1="591.7" y1="1419.5" x2="591.7" y2="1578.6" stroke="#cc2229" stroke-width="4.4" stroke-dasharray="14 19.5"/>
<rect x="548" y="1289.5" width="87.5" height="130" fill="#333692"/>
<line x1="548" y1="1354.4" x2="635.5" y2="1354.4" stroke="#cc2229" stroke-width="8"/>
<line x1="569.7" y1="1204.8" x2="613.7" y2="1204.8" stroke="#cc2229" stroke-width="4.4"/>
<line x1="569.7" y1="1578.6" x2="613.7" y2="1578.6" stroke="#cc2229" stroke-width="4.4"/>
<line x1="767.9" y1="1392.6" x2="767.9" y2="1298.3" stroke="#cc2229" stroke-width="4.4" stroke-dasharray="14 19.5"/>
<line x1="767.9" y1="1550.9" x2="767.9" y2="1654" stroke="#cc2229" stroke-width="4.4" stroke-dasharray="14 19.5"/>
<rect x="724.1" y="1392.6" width="87.5" height="158.3" fill="#2fa858"/>
<line x1="724.1" y1="1485.6" x2="811.6" y2="1485.6" stroke="#cc2229" stroke-width="8"/>
<line x1="745.9" y1="1298.3" x2="789.9" y2="1298.3" stroke="#cc2229" stroke-width="4.4"/>
<line x1="745.9" y1="1654" x2="789.9" y2="1654" stroke="#cc2229" stroke-width="4.4"/>
<line x1="233.6" y1="1372.4" x2="244.6" y2="1372.4" stroke="#cc2229" stroke-width="3"/>
<line x1="239.1" y1="1366.9" x2="239.1" y2="1377.9" stroke="#cc2229" stroke-width="3"/>
<rect x="151" y="1152.3" width="705" height="578.7" fill="none" stroke="#1a1a1a" stroke-width="2"/>
<line x1="239.1" y1="1731" x2="239.1" y2="1742.5" stroke="#1a1a1a" stroke-width="2"/>
<line x1="415.5" y1="1731" x2="415.5" y2="1742.5" stroke="#1a1a1a" stroke-width="2"/>
<line x1="591.7" y1="1731" x2="591.7" y2="1742.5" stroke="#1a1a1a" stroke-width="2"/>
<line x1="767.9" y1="1731" x2="767.9" y2="1742.5" stroke="#1a1a1a" stroke-width="2"/>
<text transform="translate(70.8 1431) rotate(-90)" font-size="42" font-weight="bold" text-anchor="middle" fill="#231f20">CD31-/PAS+ Channels</text>
<text transform="translate(222.6 1771.5) rotate(45)" font-size="33" fill="#231f20">
<tspan x="0" y="0">Empty</tspan>
</text>
<text transform="translate(399 1771.5) rotate(45)" font-size="33" fill="#231f20">
<tspan x="0" y="0">SERPINE2</tspan>
<tspan x="0" y="44.5">(NM_0016216)</tspan>
</text>
<text transform="translate(575.2 1771.5) rotate(45)" font-size="33" fill="#231f20">
<tspan x="0" y="0">SERPINE2</tspan>
<tspan x="0" y="44.5">(NM_001136528)</tspan>
</text>
<text transform="translate(751.4 1771.5) rotate(45)" font-size="33" fill="#231f20">
<tspan x="0" y="0">SLPI</tspan>
</text>
<line x1="1046.3" y1="1708.3" x2="1758.3" y2="1708.3" stroke="#2a2a2a" stroke-width="2" stroke-dasharray="16.4 16.6" stroke-dashoffset="0"/>
<line x1="1758.3" y1="1708.3" x2="1769.5" y2="1708.3" stroke="#2a2a2a" stroke-width="2"/>
<text x="1035.3" y="1719.6" font-size="32.5" text-anchor="end" fill="#231f20">20</text>
<line x1="1046.3" y1="1634.6" x2="1758.3" y2="1634.6" stroke="#2a2a2a" stroke-width="2" stroke-dasharray="16.4 16.6" stroke-dashoffset="0"/>
<line x1="1758.3" y1="1634.6" x2="1769.5" y2="1634.6" stroke="#2a2a2a" stroke-width="2"/>
<text x="1035.3" y="1645.9" font-size="32.5" text-anchor="end" fill="#231f20">25</text>
<line x1="1046.3" y1="1560.9" x2="1758.3" y2="1560.9" stroke="#2a2a2a" stroke-width="2" stroke-dasharray="16.4 16.6" stroke-dashoffset="0"/>
<line x1="1758.3" y1="1560.9" x2="1769.5" y2="1560.9" stroke="#2a2a2a" stroke-width="2"/>
<text x="1035.3" y="1572.2" font-size="32.5" text-anchor="end" fill="#231f20">30</text>
<line x1="1046.3" y1="1487.2" x2="1758.3" y2="1487.2" stroke="#2a2a2a" stroke-width="2" stroke-dasharray="16.4 16.6" stroke-dashoffset="0"/>
<line x1="1758.3" y1="1487.2" x2="1769.5" y2="1487.2" stroke="#2a2a2a" stroke-width="2"/>
<text x="1035.3" y="1498.5" font-size="32.5" text-anchor="end" fill="#231f20">35</text>
<line x1="1046.3" y1="1413.5" x2="1758.3" y2="1413.5" stroke="#2a2a2a" stroke-width="2" stroke-dasharray="16.4 16.6" stroke-dashoffset="0"/>
<line x1="1758.3" y1="1413.5" x2="1769.5" y2="1413.5" stroke="#2a2a2a" stroke-width="2"/>
<text x="1035.3" y="1424.8" font-size="32.5" text-anchor="end" fill="#231f20">40</text>
<line x1="1046.3" y1="1339.8" x2="1758.3" y2="1339.8" stroke="#2a2a2a" stroke-width="2" stroke-dasharray="16.4 16.6" stroke-dashoffset="0"/>
<line x1="1758.3" y1="1339.8" x2="1769.5" y2="1339.8" stroke="#2a2a2a" stroke-width="2"/>
<text x="1035.3" y="1351.1" font-size="32.5" text-anchor="end" fill="#231f20">45</text>
<line x1="1046.3" y1="1266.1" x2="1758.3" y2="1266.1" stroke="#2a2a2a" stroke-width="2" stroke-dasharray="16.4 16.6" stroke-dashoffset="0"/>
<line x1="1758.3" y1="1266.1" x2="1769.5" y2="1266.1" stroke="#2a2a2a" stroke-width="2"/>
<text x="1035.3" y="1277.4" font-size="32.5" text-anchor="end" fill="#231f20">50</text>
<line x1="1046.3" y1="1192.4" x2="1758.3" y2="1192.4" stroke="#2a2a2a" stroke-width="2" stroke-dasharray="16.4 16.6" stroke-dashoffset="0"/>
<line x1="1758.3" y1="1192.4" x2="1769.5" y2="1192.4" stroke="#2a2a2a" stroke-width="2"/>
<text x="1035.3" y="1203.7" font-size="32.5" text-anchor="end" fill="#231f20">55</text>
<line x1="1145.2" y1="1589.5" x2="1145.2" y2="1486.4" stroke="#cc2229" stroke-width="4.4" stroke-dasharray="16.5 16.8"/>
<line x1="1145.2" y1="1666.7" x2="1145.2" y2="1703.8" stroke="#cc2229" stroke-width="4.4" stroke-dasharray="16.5 16.8"/>
<rect x="1101.7" y="1589.5" width="87" height="77.2" fill="#6e6e72"/>
<line x1="1101.7" y1="1646" x2="1188.7" y2="1646" stroke="#cc2229" stroke-width="8"/>
<line x1="1123.5" y1="1486.4" x2="1167" y2="1486.4" stroke="#cc2229" stroke-width="4.4"/>
<line x1="1123.5" y1="1703.8" x2="1167" y2="1703.8" stroke="#cc2229" stroke-width="4.4"/>
<line x1="1320.2" y1="1401.4" x2="1320.2" y2="1284.8" stroke="#cc2229" stroke-width="4.4" stroke-dasharray="16.5 16.8"/>
<line x1="1320.2" y1="1496.7" x2="1320.2" y2="1582.9" stroke="#cc2229" stroke-width="4.4" stroke-dasharray="16.5 16.8"/>
<rect x="1276.7" y="1401.4" width="87" height="95.3" fill="#27aae1"/>
<line x1="1276.7" y1="1442.9" x2="1363.7" y2="1442.9" stroke="#cc2229" stroke-width="8"/>
<line x1="1298.5" y1="1284.8" x2="1342" y2="1284.8" stroke="#cc2229" stroke-width="4.4"/>
<line x1="1298.5" y1="1582.9" x2="1342" y2="1582.9" stroke="#cc2229" stroke-width="4.4"/>
<line x1="1495.4" y1="1375.9" x2="1495.4" y2="1333.2" stroke="#cc2229" stroke-width="4.4" stroke-dasharray="16.5 16.8"/>
<line x1="1495.4" y1="1553.5" x2="1495.4" y2="1665.8" stroke="#cc2229" stroke-width="4.4" stroke-dasharray="16.5 16.8"/>
<rect x="1451.9" y="1375.9" width="87" height="177.6" fill="#333692"/>
<line x1="1451.9" y1="1457.6" x2="1538.9" y2="1457.6" stroke="#cc2229" stroke-width="8"/>
<line x1="1473.7" y1="1333.2" x2="1517.2" y2="1333.2" stroke="#cc2229" stroke-width="4.4"/>
<line x1="1473.7" y1="1665.8" x2="1517.2" y2="1665.8" stroke="#cc2229" stroke-width="4.4"/>
<line x1="1670.4" y1="1296.3" x2="1670.4" y2="1178.1" stroke="#cc2229" stroke-width="4.4" stroke-dasharray="16.5 16.8"/>
<line x1="1670.4" y1="1536.2" x2="1670.4" y2="1547" stroke="#cc2229" stroke-width="4.4" stroke-dasharray="16.5 16.8"/>
<rect x="1626.9" y="1296.3" width="87" height="239.9" fill="#2fa858"/>
<line x1="1626.9" y1="1363.8" x2="1713.9" y2="1363.8" stroke="#cc2229" stroke-width="8"/>
<line x1="1648.7" y1="1178.1" x2="1692.2" y2="1178.1" stroke="#cc2229" stroke-width="4.4"/>
<line x1="1648.7" y1="1547" x2="1692.2" y2="1547" stroke="#cc2229" stroke-width="4.4"/>
<rect x="1058" y="1152" width="700.3" height="577.8" fill="none" stroke="#1a1a1a" stroke-width="2"/>
<line x1="1145.2" y1="1729.8" x2="1145.2" y2="1740.8" stroke="#1a1a1a" stroke-width="2"/>
<line x1="1320.4" y1="1729.8" x2="1320.4" y2="1740.8" stroke="#1a1a1a" stroke-width="2"/>
<line x1="1495.4" y1="1729.8" x2="1495.4" y2="1740.8" stroke="#1a1a1a" stroke-width="2"/>
<line x1="1670.6" y1="1729.8" x2="1670.6" y2="1740.8" stroke="#1a1a1a" stroke-width="2"/>
<text transform="translate(980 1445) rotate(-90)" font-size="41" font-weight="bold" text-anchor="middle" fill="#231f20">% Metastatic Burden of Lung</text>
<text transform="translate(1128.7 1771) rotate(45)" font-size="33" fill="#231f20">
<tspan x="0" y="0">Empty</tspan>
</text>
<text transform="translate(1303.9 1771) rotate(45)" font-size="33" fill="#231f20">
<tspan x="0" y="0">SERPINE2</tspan>
<tspan x="0" y="44.5">(NM_0016216)</tspan>
</text>
<text transform="translate(1478.9 1771) rotate(45)" font-size="33" fill="#231f20">
<tspan x="0" y="0">SERPINE2</tspan>
<tspan x="0" y="44.5">(NM_001136528)</tspan>
</text>
<text transform="translate(1654.1 1771) rotate(45)" font-size="33" fill="#231f20">
<tspan x="0" y="0">SLPI</tspan>
</text>
<line x1="130.5" y1="2599.5" x2="844.2" y2="2599.5" stroke="#2a2a2a" stroke-width="2" stroke-dasharray="16.6 16.6" stroke-dashoffset="0"/>
<line x1="844.2" y1="2599.5" x2="856.3" y2="2599.5" stroke="#2a2a2a" stroke-width="2"/>
<text x="125.6" y="2610.9" font-size="32.5" text-anchor="end" fill="#231f20">0</text>
<line x1="130.5" y1="2524.4" x2="844.2" y2="2524.4" stroke="#2a2a2a" stroke-width="2" stroke-dasharray="16.6 16.6" stroke-dashoffset="0"/>
<line x1="844.2" y1="2524.4" x2="856.3" y2="2524.4" stroke="#2a2a2a" stroke-width="2"/>
<text x="125.6" y="2535.8" font-size="32.5" text-anchor="end" fill="#231f20">1</text>
<line x1="130.5" y1="2449.4" x2="844.2" y2="2449.4" stroke="#2a2a2a" stroke-width="2" stroke-dasharray="16.6 16.6" stroke-dashoffset="0"/>
<line x1="844.2" y1="2449.4" x2="856.3" y2="2449.4" stroke="#2a2a2a" stroke-width="2"/>
<text x="125.6" y="2460.8" font-size="32.5" text-anchor="end" fill="#231f20">2</text>
<line x1="130.5" y1="2374.3" x2="844.2" y2="2374.3" stroke="#2a2a2a" stroke-width="2" stroke-dasharray="16.6 16.6" stroke-dashoffset="0"/>
<line x1="844.2" y1="2374.3" x2="856.3" y2="2374.3" stroke="#2a2a2a" stroke-width="2"/>
<text x="125.6" y="2385.8" font-size="32.5" text-anchor="end" fill="#231f20">3</text>
<line x1="130.5" y1="2299.3" x2="844.2" y2="2299.3" stroke="#2a2a2a" stroke-width="2" stroke-dasharray="16.6 16.6" stroke-dashoffset="0"/>
<line x1="844.2" y1="2299.3" x2="856.3" y2="2299.3" stroke="#2a2a2a" stroke-width="2"/>
<text x="125.6" y="2310.7" font-size="32.5" text-anchor="end" fill="#231f20">4</text>
<line x1="130.5" y1="2224.2" x2="844.2" y2="2224.2" stroke="#2a2a2a" stroke-width="2" stroke-dasharray="16.6 16.6" stroke-dashoffset="0"/>
<line x1="844.2" y1="2224.2" x2="856.3" y2="2224.2" stroke="#2a2a2a" stroke-width="2"/>
<text x="125.6" y="2235.7" font-size="32.5" text-anchor="end" fill="#231f20">5</text>
<line x1="130.5" y1="2149.2" x2="844.2" y2="2149.2" stroke="#2a2a2a" stroke-width="2" stroke-dasharray="16.6 16.6" stroke-dashoffset="0"/>
<line x1="844.2" y1="2149.2" x2="856.3" y2="2149.2" stroke="#2a2a2a" stroke-width="2"/>
<text x="125.6" y="2160.6" font-size="32.5" text-anchor="end" fill="#231f20">6</text>
<line x1="130.5" y1="2074.2" x2="844.2" y2="2074.2" stroke="#2a2a2a" stroke-width="2" stroke-dasharray="16.6 16.6" stroke-dashoffset="0"/>
<line x1="844.2" y1="2074.2" x2="856.3" y2="2074.2" stroke="#2a2a2a" stroke-width="2"/>
<text x="125.6" y="2085.6" font-size="32.5" text-anchor="end" fill="#231f20">7</text>
<line x1="231.7" y1="2505.7" x2="231.7" y2="2374.3" stroke="#cc2229" stroke-width="4.4" stroke-dasharray="16.6 16.6"/>
<rect x="188" y="2505.7" width="87.4" height="93.8" fill="#6e6e72"/>
<line x1="188" y1="2524.4" x2="275.4" y2="2524.4" stroke="#cc2229" stroke-width="8"/>
<line x1="209.9" y1="2374.3" x2="253.4" y2="2374.3" stroke="#cc2229" stroke-width="4.4"/>
<line x1="209.9" y1="2599.5" x2="253.4" y2="2599.5" stroke="#cc2229" stroke-width="4.4"/>
<line x1="406.7" y1="2505.7" x2="406.7" y2="2374.3" stroke="#cc2229" stroke-width="4.4" stroke-dasharray="16.6 16.6"/>
<rect x="363" y="2505.7" width="87.4" height="93.8" fill="#27aae1"/>
<line x1="363" y1="2524.4" x2="450.4" y2="2524.4" stroke="#cc2229" stroke-width="8"/>
<line x1="384.9" y1="2374.3" x2="428.4" y2="2374.3" stroke="#cc2229" stroke-width="4.4"/>
<line x1="384.9" y1="2599.5" x2="428.4" y2="2599.5" stroke="#cc2229" stroke-width="4.4"/>
<line x1="581.9" y1="2299.3" x2="581.9" y2="2224.2" stroke="#cc2229" stroke-width="4.4" stroke-dasharray="16.6 16.6"/>
<line x1="581.9" y1="2524.4" x2="581.9" y2="2599.5" stroke="#cc2229" stroke-width="4.4" stroke-dasharray="16.6 16.6"/>
<rect x="538.2" y="2299.3" width="87.4" height="225.1" fill="#333692"/>
<line x1="538.2" y1="2449.4" x2="625.6" y2="2449.4" stroke="#cc2229" stroke-width="8"/>
<line x1="560.1" y1="2224.2" x2="603.6" y2="2224.2" stroke="#cc2229" stroke-width="4.4"/>
<line x1="560.1" y1="2599.5" x2="603.6" y2="2599.5" stroke="#cc2229" stroke-width="4.4"/>
<line x1="757.2" y1="2299.3" x2="757.2" y2="2074.2" stroke="#cc2229" stroke-width="4.4" stroke-dasharray="16.6 16.6"/>
<rect x="713.5" y="2299.3" width="87.4" height="225.1" fill="#2fa858"/>
<line x1="713.5" y1="2449.4" x2="800.9" y2="2449.4" stroke="#cc2229" stroke-width="8"/>
<line x1="735.5" y1="2074.2" x2="779" y2="2074.2" stroke="#cc2229" stroke-width="4.4"/>
<line x1="735.5" y1="2524.4" x2="779" y2="2524.4" stroke="#cc2229" stroke-width="4.4"/>
<rect x="144.5" y="2047.7" width="699.7" height="578.3" fill="none" stroke="#1a1a1a" stroke-width="2"/>
<line x1="231.5" y1="2626" x2="231.5" y2="2637" stroke="#1a1a1a" stroke-width="2"/>
<line x1="406.7" y1="2626" x2="406.7" y2="2637" stroke="#1a1a1a" stroke-width="2"/>
<line x1="581.8" y1="2626" x2="581.8" y2="2637" stroke="#1a1a1a" stroke-width="2"/>
<line x1="757.3" y1="2626" x2="757.3" y2="2637" stroke="#1a1a1a" stroke-width="2"/>
<text transform="translate(88.8 2337) rotate(-90)" font-size="41.3" font-weight="bold" text-anchor="middle" fill="#231f20"># Lung Metastatic Nodules</text>
<text transform="translate(215 2668) rotate(45)" font-size="33" fill="#231f20">
<tspan x="0" y="0">Empty</tspan>
</text>
<text transform="translate(390.2 2668) rotate(45)" font-size="33" fill="#231f20">
<tspan x="0" y="0">SERPINE2</tspan>
<tspan x="0" y="44.5">(NM_0016216)</tspan>
</text>
<text transform="translate(565.3 2668) rotate(45)" font-size="33" fill="#231f20">
<tspan x="0" y="0">SERPINE2</tspan>
<tspan x="0" y="44.5">(NM_001136528)</tspan>
</text>
<text transform="translate(740.8 2668) rotate(45)" font-size="33" fill="#231f20">
<tspan x="0" y="0">SLPI</tspan>
</text>
<line x1="1058.7" y1="2599.7" x2="1759.5" y2="2599.7" stroke="#2a2a2a" stroke-width="2" stroke-dasharray="12.6 20.5" stroke-dashoffset="0"/>
<line x1="1047" y1="2599.7" x2="1058.4" y2="2599.7" stroke="#2a2a2a" stroke-width="2"/>
<line x1="1762.6" y1="2599.7" x2="1774" y2="2599.7" stroke="#2a2a2a" stroke-width="2"/>
<text x="1038.5" y="2608.7" font-size="28.4" text-anchor="end" fill="#231f20">0</text>
<line x1="1058.7" y1="2489.5" x2="1759.5" y2="2489.5" stroke="#2a2a2a" stroke-width="2" stroke-dasharray="12.6 20.5" stroke-dashoffset="0"/>
<line x1="1047" y1="2489.5" x2="1058.4" y2="2489.5" stroke="#2a2a2a" stroke-width="2"/>
<line x1="1762.6" y1="2489.5" x2="1774" y2="2489.5" stroke="#2a2a2a" stroke-width="2"/>
<text x="1038.5" y="2498.5" font-size="28.4" text-anchor="end" fill="#231f20">1</text>
<line x1="1058.7" y1="2379.3" x2="1759.5" y2="2379.3" stroke="#2a2a2a" stroke-width="2" stroke-dasharray="12.6 20.5" stroke-dashoffset="0"/>
<line x1="1047" y1="2379.3" x2="1058.4" y2="2379.3" stroke="#2a2a2a" stroke-width="2"/>
<line x1="1762.6" y1="2379.3" x2="1774" y2="2379.3" stroke="#2a2a2a" stroke-width="2"/>
<text x="1038.5" y="2388.3" font-size="28.4" text-anchor="end" fill="#231f20">2</text>
<line x1="1058.7" y1="2269.1" x2="1759.5" y2="2269.1" stroke="#2a2a2a" stroke-width="2" stroke-dasharray="12.6 20.5" stroke-dashoffset="0"/>
<line x1="1047" y1="2269.1" x2="1058.4" y2="2269.1" stroke="#2a2a2a" stroke-width="2"/>
<line x1="1762.6" y1="2269.1" x2="1774" y2="2269.1" stroke="#2a2a2a" stroke-width="2"/>
<text x="1038.5" y="2278.1" font-size="28.4" text-anchor="end" fill="#231f20">3</text>
<line x1="1058.7" y1="2158.9" x2="1759.5" y2="2158.9" stroke="#2a2a2a" stroke-width="2" stroke-dasharray="12.6 20.5" stroke-dashoffset="0"/>
<line x1="1047" y1="2158.9" x2="1058.4" y2="2158.9" stroke="#2a2a2a" stroke-width="2"/>
<line x1="1762.6" y1="2158.9" x2="1774" y2="2158.9" stroke="#2a2a2a" stroke-width="2"/>
<text x="1038.5" y="2167.9" font-size="28.4" text-anchor="end" fill="#231f20">4</text>
<line x1="1107.5" y1="2138.2" x2="1107.5" y2="2080.5" stroke="#cc2229" stroke-width="4" stroke-dasharray="16 17.3"/>
<line x1="1107.5" y1="2281" x2="1107.5" y2="2310.7" stroke="#cc2229" stroke-width="4" stroke-dasharray="16 17.3"/>
<rect x="1093.2" y="2138.2" width="28.6" height="142.8" fill="#878787"/>
<line x1="1093.2" y1="2175.8" x2="1121.8" y2="2175.8" stroke="#cc2229" stroke-width="8"/>
<line x1="1100.2" y1="2080.5" x2="1114.8" y2="2080.5" stroke="#cc2229" stroke-width="4"/>
<line x1="1100.2" y1="2310.7" x2="1114.8" y2="2310.7" stroke="#cc2229" stroke-width="4"/>
<line x1="1155.4" y1="2264.9" x2="1155.4" y2="2226" stroke="#cc2229" stroke-width="4" stroke-dasharray="16 17.3"/>
<line x1="1155.4" y1="2298.3" x2="1155.4" y2="2300.9" stroke="#cc2229" stroke-width="4" stroke-dasharray="16 17.3"/>
<rect x="1141.1" y="2264.9" width="28.6" height="33.4" fill="#27aae1"/>
<line x1="1141.1" y1="2290.8" x2="1169.7" y2="2290.8" stroke="#cc2229" stroke-width="8"/>
<line x1="1148.2" y1="2226" x2="1162.7" y2="2226" stroke="#cc2229" stroke-width="4"/>
<line x1="1148.2" y1="2300.9" x2="1162.7" y2="2300.9" stroke="#cc2229" stroke-width="4"/>
<line x1="1203" y1="2166.5" x2="1203" y2="2152" stroke="#cc2229" stroke-width="4" stroke-dasharray="16 17.3"/>
<line x1="1203" y1="2264.9" x2="1203" y2="2278.1" stroke="#cc2229" stroke-width="4" stroke-dasharray="16 17.3"/>
<rect x="1188.7" y="2166.5" width="28.6" height="98.4" fill="#2e4496"/>
<line x1="1188.7" y1="2260.4" x2="1217.3" y2="2260.4" stroke="#cc2229" stroke-width="8"/>
<line x1="1195.8" y1="2152" x2="1210.2" y2="2152" stroke="#cc2229" stroke-width="4"/>
<line x1="1195.8" y1="2278.1" x2="1210.2" y2="2278.1" stroke="#cc2229" stroke-width="4"/>
<line x1="1250.8" y1="2225.5" x2="1250.8" y2="2202.2" stroke="#cc2229" stroke-width="4" stroke-dasharray="16 17.3"/>
<line x1="1250.8" y1="2267" x2="1250.8" y2="2273.1" stroke="#cc2229" stroke-width="4" stroke-dasharray="16 17.3"/>
<rect x="1236.5" y="2225.5" width="28.6" height="41.5" fill="#2fa858"/>
<line x1="1236.5" y1="2245.3" x2="1265.1" y2="2245.3" stroke="#cc2229" stroke-width="3"/>
<line x1="1243.5" y1="2202.2" x2="1258" y2="2202.2" stroke="#cc2229" stroke-width="4"/>
<line x1="1243.5" y1="2273.1" x2="1258" y2="2273.1" stroke="#cc2229" stroke-width="4"/>
<line x1="1336.4" y1="2522.4" x2="1336.4" y2="2521.2" stroke="#cc2229" stroke-width="4" stroke-dasharray="16 17.3"/>
<line x1="1336.4" y1="2553.7" x2="1336.4" y2="2568.5" stroke="#cc2229" stroke-width="4" stroke-dasharray="16 17.3"/>
<rect x="1322.1" y="2522.4" width="28.6" height="31.3" fill="#878787"/>
<line x1="1322.1" y1="2547.6" x2="1350.7" y2="2547.6" stroke="#cc2229" stroke-width="8"/>
<line x1="1329.2" y1="2521.2" x2="1343.7" y2="2521.2" stroke="#cc2229" stroke-width="4"/>
<line x1="1329.2" y1="2568.5" x2="1343.7" y2="2568.5" stroke="#cc2229" stroke-width="4"/>
<line x1="1384.2" y1="2496.2" x2="1384.2" y2="2469.8" stroke="#cc2229" stroke-width="4" stroke-dasharray="16 17.3"/>
<rect x="1369.9" y="2496.2" width="28.6" height="50.6" fill="#27aae1"/>
<line x1="1369.9" y1="2516.7" x2="1398.5" y2="2516.7" stroke="#cc2229" stroke-width="8"/>
<line x1="1377" y1="2469.8" x2="1391.5" y2="2469.8" stroke="#cc2229" stroke-width="4"/>
<line x1="1377" y1="2546.8" x2="1391.5" y2="2546.8" stroke="#cc2229" stroke-width="4"/>
<line x1="1431.8" y1="2311.1" x2="1431.8" y2="2303" stroke="#cc2229" stroke-width="4" stroke-dasharray="16 17.3"/>
<line x1="1431.8" y1="2384.3" x2="1431.8" y2="2385.4" stroke="#cc2229" stroke-width="4" stroke-dasharray="16 17.3"/>
<rect x="1417.5" y="2311.1" width="28.6" height="73.2" fill="#2e4496"/>
<line x1="1417.5" y1="2341.9" x2="1446.1" y2="2341.9" stroke="#cc2229" stroke-width="8"/>
<line x1="1424.5" y1="2303" x2="1439" y2="2303" stroke="#cc2229" stroke-width="4"/>
<line x1="1424.5" y1="2385.4" x2="1439" y2="2385.4" stroke="#cc2229" stroke-width="4"/>
<line x1="1479.7" y1="2324.8" x2="1479.7" y2="2303.9" stroke="#cc2229" stroke-width="4" stroke-dasharray="16 17.3"/>
<line x1="1479.7" y1="2413.8" x2="1479.7" y2="2483" stroke="#cc2229" stroke-width="4" stroke-dasharray="16 17.3"/>
<rect x="1465.4" y="2324.8" width="28.6" height="89" fill="#2fa858"/>
<line x1="1465.4" y1="2367.5" x2="1494" y2="2367.5" stroke="#cc2229" stroke-width="8"/>
<line x1="1472.5" y1="2303.9" x2="1487" y2="2303.9" stroke="#cc2229" stroke-width="4"/>
<line x1="1472.5" y1="2483" x2="1487" y2="2483" stroke="#cc2229" stroke-width="4"/>
<line x1="1560.3" y1="2560.6" x2="1560.3" y2="2556.5" stroke="#cc2229" stroke-width="4" stroke-dasharray="16 17.3"/>
<line x1="1560.3" y1="2571.3" x2="1560.3" y2="2578.1" stroke="#cc2229" stroke-width="4" stroke-dasharray="16 17.3"/>
<rect x="1546" y="2560.6" width="28.6" height="10.7" fill="#878787"/>
<line x1="1546" y1="2567" x2="1574.6" y2="2567" stroke="#cc2229" stroke-width="8"/>
<line x1="1553" y1="2556.5" x2="1567.5" y2="2556.5" stroke="#cc2229" stroke-width="4"/>
<line x1="1553" y1="2578.1" x2="1567.5" y2="2578.1" stroke="#cc2229" stroke-width="4"/>
<line x1="1608.4" y1="2530" x2="1608.4" y2="2508.7" stroke="#cc2229" stroke-width="4" stroke-dasharray="16 17.3"/>
<line x1="1608.4" y1="2567.9" x2="1608.4" y2="2580.3" stroke="#cc2229" stroke-width="4" stroke-dasharray="16 17.3"/>
<rect x="1594.1" y="2530" width="28.6" height="37.9" fill="#27aae1"/>
<line x1="1594.1" y1="2564.2" x2="1622.7" y2="2564.2" stroke="#cc2229" stroke-width="7.5"/>
<line x1="1601.2" y1="2508.7" x2="1615.7" y2="2508.7" stroke="#cc2229" stroke-width="4"/>
<line x1="1601.2" y1="2580.3" x2="1615.7" y2="2580.3" stroke="#cc2229" stroke-width="4"/>
<line x1="1656.1" y1="2469.4" x2="1656.1" y2="2462.8" stroke="#cc2229" stroke-width="4" stroke-dasharray="16 17.3"/>
<line x1="1656.1" y1="2535.9" x2="1656.1" y2="2540.2" stroke="#cc2229" stroke-width="4" stroke-dasharray="16 17.3"/>
<rect x="1641.8" y="2469.4" width="28.6" height="66.5" fill="#2e4496"/>
<line x1="1641.8" y1="2523.5" x2="1670.4" y2="2523.5" stroke="#cc2229" stroke-width="8"/>
<line x1="1648.8" y1="2462.8" x2="1663.3" y2="2462.8" stroke="#cc2229" stroke-width="4"/>
<line x1="1648.8" y1="2540.2" x2="1663.3" y2="2540.2" stroke="#cc2229" stroke-width="4"/>
<line x1="1703.9" y1="2449" x2="1703.9" y2="2418.8" stroke="#cc2229" stroke-width="4" stroke-dasharray="16 17.3"/>
<line x1="1703.9" y1="2493" x2="1703.9" y2="2525" stroke="#cc2229" stroke-width="4" stroke-dasharray="16 17.3"/>
<rect x="1689.6" y="2449" width="28.6" height="44" fill="#2fa858"/>
<line x1="1689.6" y1="2462.1" x2="1718.2" y2="2462.1" stroke="#cc2229" stroke-width="8"/>
<line x1="1696.7" y1="2418.8" x2="1711.2" y2="2418.8" stroke="#cc2229" stroke-width="4"/>
<line x1="1696.7" y1="2525" x2="1711.2" y2="2525" stroke="#cc2229" stroke-width="4"/>
<line x1="1330.4" y1="2462.1" x2="1342.4" y2="2462.1" stroke="#cc2229" stroke-width="3.8"/>
<line x1="1336.4" y1="2456.1" x2="1336.4" y2="2468.1" stroke="#cc2229" stroke-width="3.8"/>
<line x1="1425.8" y1="2506.4" x2="1437.8" y2="2506.4" stroke="#cc2229" stroke-width="3.8"/>
<line x1="1431.8" y1="2500.4" x2="1431.8" y2="2512.4" stroke="#cc2229" stroke-width="3.8"/>
<rect x="1058.4" y="2047.8" width="704.2" height="578.2" fill="none" stroke="#1a1a1a" stroke-width="2"/>
<line x1="1058.4" y1="2626" x2="1762.6" y2="2626" stroke="#1a1a1a" stroke-width="3"/>
<line x1="1093" y1="2638.4" x2="1264.9" y2="2638.4" stroke="#1a1a1a" stroke-width="3.7"/>
<line x1="1322" y1="2638.4" x2="1493.6" y2="2638.4" stroke="#1a1a1a" stroke-width="3.7"/>
<line x1="1546.3" y1="2638.4" x2="1718" y2="2638.4" stroke="#1a1a1a" stroke-width="3.7"/>
<text transform="translate(1180.7 2678.6) scale(1 1.080)" font-size="40.6" font-weight="bold" text-anchor="middle" fill="#111">Tumor</text>
<text transform="translate(1416.5 2678.6) scale(1 1.080)" font-size="40.3" font-weight="bold" text-anchor="middle" fill="#111">CTCs</text>
<text transform="translate(1635.6 2678.6) scale(1 1.080)" font-size="40.8" font-weight="bold" text-anchor="middle" fill="#111">Lung-MET</text>
<text transform="translate(979.4 2349) rotate(-90)" font-size="41.2" font-weight="bold" text-anchor="middle" fill="#231f20"># Clones&#160;&#160;Identified/1000</text>
<rect x="943.5" y="2701" width="68.8" height="47.7" fill="#6e6e72"/>
<rect x="943.5" y="2772.5" width="68.8" height="47.6" fill="#2fa858"/>
<rect x="1173.1" y="2701" width="68.3" height="47.4" fill="#27aae1"/>
<rect x="1173.1" y="2772.6" width="68.3" height="47.3" fill="#2e4496"/>
<text transform="translate(1028.8 2739) scale(1 1.070)" font-size="41.4" font-weight="bold" fill="#231f20">Empty</text>
<text transform="translate(1028.5 2812.4) scale(1 1.070)" font-size="41.4" font-weight="bold" fill="#231f20">SLPI</text>
<text transform="translate(1256 2740.8) scale(1 1.070)" font-size="41.4" font-weight="bold" fill="#231f20">SERPINE2 (NM_0016216)</text>
<text transform="translate(1256 2810.4) scale(1 1.070)" font-size="41.4" font-weight="bold" fill="#231f20">SERPINE2 (NM_001136528)</text>
</svg></body></html>
